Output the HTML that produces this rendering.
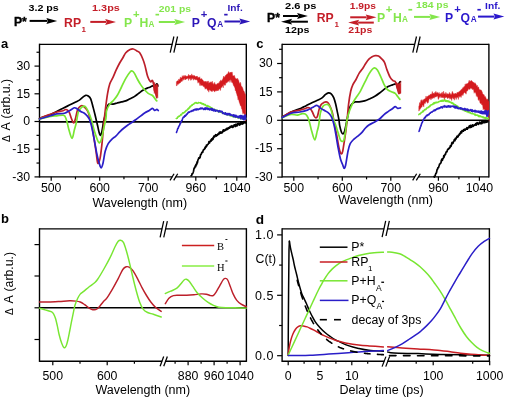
<!DOCTYPE html><html><head><meta charset="utf-8"><style>html,body{margin:0;padding:0;background:#fff;}svg{display:block;filter:blur(0.3px);}</style></head><body><svg width="505" height="398" viewBox="0 0 505 398" style="font-family:&quot;Liberation Sans&quot;, sans-serif">
<rect width="505" height="398" fill="#fff"/>
<line x1="39.50" y1="121.80" x2="246.30" y2="121.80" stroke="#000" stroke-width="1.8" />
<line x1="39.50" y1="43.70" x2="39.50" y2="177.55" stroke="#000" stroke-width="1.4" />
<line x1="246.30" y1="43.70" x2="246.30" y2="177.55" stroke="#000" stroke-width="1.4" />
<line x1="39.50" y1="44.40" x2="172.35" y2="44.40" stroke="#000" stroke-width="1.4" />
<line x1="175.40" y1="44.40" x2="246.30" y2="44.40" stroke="#000" stroke-width="1.4" />
<line x1="39.50" y1="176.85" x2="172.35" y2="176.85" stroke="#000" stroke-width="1.4" />
<line x1="175.40" y1="176.85" x2="246.30" y2="176.85" stroke="#000" stroke-width="1.4" />
<line x1="173.90" y1="36.50" x2="170.20" y2="52.70" stroke="#000" stroke-width="1.25" />
<line x1="177.55" y1="36.50" x2="173.85" y2="52.70" stroke="#000" stroke-width="1.25" />
<line x1="174.05" y1="173.75" x2="170.05" y2="180.35" stroke="#000" stroke-width="1.25" />
<line x1="177.70" y1="173.75" x2="173.70" y2="180.35" stroke="#000" stroke-width="1.25" />
<line x1="34.50" y1="176.90" x2="39.50" y2="176.90" stroke="#000" stroke-width="1.2" />
<line x1="34.50" y1="149.20" x2="39.50" y2="149.20" stroke="#000" stroke-width="1.2" />
<line x1="34.50" y1="121.50" x2="39.50" y2="121.50" stroke="#000" stroke-width="1.2" />
<line x1="34.50" y1="93.80" x2="39.50" y2="93.80" stroke="#000" stroke-width="1.2" />
<line x1="34.50" y1="66.10" x2="39.50" y2="66.10" stroke="#000" stroke-width="1.2" />
<line x1="36.50" y1="163.05" x2="39.50" y2="163.05" stroke="#000" stroke-width="1.2" />
<line x1="36.50" y1="135.35" x2="39.50" y2="135.35" stroke="#000" stroke-width="1.2" />
<line x1="36.50" y1="107.65" x2="39.50" y2="107.65" stroke="#000" stroke-width="1.2" />
<line x1="36.50" y1="79.95" x2="39.50" y2="79.95" stroke="#000" stroke-width="1.2" />
<line x1="36.50" y1="52.25" x2="39.50" y2="52.25" stroke="#000" stroke-width="1.2" />
<text x="30.10" y="180.60" font-size="12.3" text-anchor="end" font-weight="normal" fill="#000" >-30</text>
<text x="30.10" y="152.90" font-size="12.3" text-anchor="end" font-weight="normal" fill="#000" >-15</text>
<text x="30.10" y="125.20" font-size="12.3" text-anchor="end" font-weight="normal" fill="#000" >0</text>
<text x="30.10" y="97.50" font-size="12.3" text-anchor="end" font-weight="normal" fill="#000" >15</text>
<text x="30.10" y="69.80" font-size="12.3" text-anchor="end" font-weight="normal" fill="#000" >30</text>
<line x1="51.20" y1="176.85" x2="51.20" y2="180.85" stroke="#000" stroke-width="1.2" />
<line x1="99.70" y1="176.85" x2="99.70" y2="180.85" stroke="#000" stroke-width="1.2" />
<line x1="148.20" y1="176.85" x2="148.20" y2="180.85" stroke="#000" stroke-width="1.2" />
<line x1="75.45" y1="176.85" x2="75.45" y2="179.35" stroke="#000" stroke-width="1.2" />
<line x1="123.95" y1="176.85" x2="123.95" y2="179.35" stroke="#000" stroke-width="1.2" />
<line x1="195.80" y1="176.85" x2="195.80" y2="180.85" stroke="#000" stroke-width="1.2" />
<line x1="236.80" y1="176.85" x2="236.80" y2="180.85" stroke="#000" stroke-width="1.2" />
<line x1="216.30" y1="176.85" x2="216.30" y2="179.35" stroke="#000" stroke-width="1.2" />
<text x="51.20" y="192.00" font-size="12.3" text-anchor="middle" font-weight="normal" fill="#000" >500</text>
<text x="99.70" y="192.00" font-size="12.3" text-anchor="middle" font-weight="normal" fill="#000" >600</text>
<text x="148.20" y="192.00" font-size="12.3" text-anchor="middle" font-weight="normal" fill="#000" >700</text>
<text x="195.80" y="192.00" font-size="12.3" text-anchor="middle" font-weight="normal" fill="#000" >960</text>
<text x="236.80" y="192.00" font-size="12.3" text-anchor="middle" font-weight="normal" fill="#000" >1040</text>
<text x="139.80" y="206.70" font-size="12.5" text-anchor="middle" font-weight="normal" fill="#000" >Wavelength (nm)</text>
<text transform="translate(10.4,141.9) rotate(-90)" font-size="12.3" text-anchor="start" word-spacing="1.1"><tspan font-size="10.2">&#916;</tspan> A (arb.u.)</text>
<text x="1.00" y="48.00" font-size="13" text-anchor="start" font-weight="bold" fill="#000" >a</text>
<line x1="282.10" y1="120.30" x2="488.90" y2="120.30" stroke="#000" stroke-width="1.5" />
<line x1="282.10" y1="43.70" x2="282.10" y2="177.55" stroke="#000" stroke-width="1.4" />
<line x1="488.90" y1="43.70" x2="488.90" y2="177.55" stroke="#000" stroke-width="1.4" />
<line x1="282.10" y1="44.40" x2="414.95" y2="44.40" stroke="#000" stroke-width="1.4" />
<line x1="418.00" y1="44.40" x2="488.90" y2="44.40" stroke="#000" stroke-width="1.4" />
<line x1="282.10" y1="176.85" x2="414.95" y2="176.85" stroke="#000" stroke-width="1.4" />
<line x1="418.00" y1="176.85" x2="488.90" y2="176.85" stroke="#000" stroke-width="1.4" />
<line x1="416.50" y1="36.50" x2="412.80" y2="52.70" stroke="#000" stroke-width="1.25" />
<line x1="420.15" y1="36.50" x2="416.45" y2="52.70" stroke="#000" stroke-width="1.25" />
<line x1="416.65" y1="173.75" x2="412.65" y2="180.35" stroke="#000" stroke-width="1.25" />
<line x1="420.30" y1="173.75" x2="416.30" y2="180.35" stroke="#000" stroke-width="1.25" />
<line x1="277.10" y1="177.10" x2="282.10" y2="177.10" stroke="#000" stroke-width="1.2" />
<line x1="277.10" y1="148.70" x2="282.10" y2="148.70" stroke="#000" stroke-width="1.2" />
<line x1="277.10" y1="120.30" x2="282.10" y2="120.30" stroke="#000" stroke-width="1.2" />
<line x1="277.10" y1="91.90" x2="282.10" y2="91.90" stroke="#000" stroke-width="1.2" />
<line x1="277.10" y1="63.50" x2="282.10" y2="63.50" stroke="#000" stroke-width="1.2" />
<line x1="279.10" y1="162.90" x2="282.10" y2="162.90" stroke="#000" stroke-width="1.2" />
<line x1="279.10" y1="134.50" x2="282.10" y2="134.50" stroke="#000" stroke-width="1.2" />
<line x1="279.10" y1="106.10" x2="282.10" y2="106.10" stroke="#000" stroke-width="1.2" />
<line x1="279.10" y1="77.70" x2="282.10" y2="77.70" stroke="#000" stroke-width="1.2" />
<line x1="279.10" y1="49.30" x2="282.10" y2="49.30" stroke="#000" stroke-width="1.2" />
<text x="272.70" y="180.80" font-size="12.3" text-anchor="end" font-weight="normal" fill="#000" >-30</text>
<text x="272.70" y="152.40" font-size="12.3" text-anchor="end" font-weight="normal" fill="#000" >-15</text>
<text x="272.70" y="124.00" font-size="12.3" text-anchor="end" font-weight="normal" fill="#000" >0</text>
<text x="272.70" y="95.60" font-size="12.3" text-anchor="end" font-weight="normal" fill="#000" >15</text>
<text x="272.70" y="67.20" font-size="12.3" text-anchor="end" font-weight="normal" fill="#000" >30</text>
<line x1="293.80" y1="176.85" x2="293.80" y2="180.85" stroke="#000" stroke-width="1.2" />
<line x1="342.30" y1="176.85" x2="342.30" y2="180.85" stroke="#000" stroke-width="1.2" />
<line x1="390.80" y1="176.85" x2="390.80" y2="180.85" stroke="#000" stroke-width="1.2" />
<line x1="318.05" y1="176.85" x2="318.05" y2="179.35" stroke="#000" stroke-width="1.2" />
<line x1="366.55" y1="176.85" x2="366.55" y2="179.35" stroke="#000" stroke-width="1.2" />
<line x1="438.40" y1="176.85" x2="438.40" y2="180.85" stroke="#000" stroke-width="1.2" />
<line x1="479.40" y1="176.85" x2="479.40" y2="180.85" stroke="#000" stroke-width="1.2" />
<line x1="458.90" y1="176.85" x2="458.90" y2="179.35" stroke="#000" stroke-width="1.2" />
<text x="293.80" y="192.00" font-size="12.3" text-anchor="middle" font-weight="normal" fill="#000" >500</text>
<text x="342.30" y="192.00" font-size="12.3" text-anchor="middle" font-weight="normal" fill="#000" >600</text>
<text x="390.80" y="192.00" font-size="12.3" text-anchor="middle" font-weight="normal" fill="#000" >700</text>
<text x="438.40" y="192.00" font-size="12.3" text-anchor="middle" font-weight="normal" fill="#000" >960</text>
<text x="479.40" y="192.00" font-size="12.3" text-anchor="middle" font-weight="normal" fill="#000" >1040</text>
<text x="385.65" y="204.10" font-size="12.5" text-anchor="middle" font-weight="normal" fill="#000" >Wavelength (nm)</text>
<text x="256.30" y="48.00" font-size="13" text-anchor="start" font-weight="bold" fill="#000" >c</text>
<line x1="39.50" y1="307.80" x2="246.40" y2="307.80" stroke="#000" stroke-width="1.5" />
<line x1="39.50" y1="228.20" x2="39.50" y2="361.90" stroke="#000" stroke-width="1.4" />
<line x1="246.40" y1="228.20" x2="246.40" y2="361.90" stroke="#000" stroke-width="1.4" />
<line x1="39.50" y1="228.90" x2="162.20" y2="228.90" stroke="#000" stroke-width="1.4" />
<line x1="165.25" y1="228.90" x2="246.40" y2="228.90" stroke="#000" stroke-width="1.4" />
<line x1="39.50" y1="361.20" x2="162.20" y2="361.20" stroke="#000" stroke-width="1.4" />
<line x1="165.25" y1="361.20" x2="246.40" y2="361.20" stroke="#000" stroke-width="1.4" />
<line x1="163.70" y1="221.10" x2="160.10" y2="237.40" stroke="#000" stroke-width="1.25" />
<line x1="167.35" y1="221.10" x2="163.75" y2="237.40" stroke="#000" stroke-width="1.25" />
<line x1="163.70" y1="356.50" x2="160.10" y2="366.30" stroke="#000" stroke-width="1.25" />
<line x1="167.35" y1="356.50" x2="163.75" y2="366.30" stroke="#000" stroke-width="1.25" />
<line x1="34.50" y1="244.60" x2="39.50" y2="244.60" stroke="#000" stroke-width="1.2" />
<line x1="34.50" y1="276.00" x2="39.50" y2="276.00" stroke="#000" stroke-width="1.2" />
<line x1="34.50" y1="307.80" x2="39.50" y2="307.80" stroke="#000" stroke-width="1.2" />
<line x1="34.50" y1="339.50" x2="39.50" y2="339.50" stroke="#000" stroke-width="1.2" />
<line x1="52.80" y1="361.20" x2="52.80" y2="365.20" stroke="#000" stroke-width="1.2" />
<line x1="107.20" y1="361.20" x2="107.20" y2="365.20" stroke="#000" stroke-width="1.2" />
<line x1="80.00" y1="361.20" x2="80.00" y2="363.70" stroke="#000" stroke-width="1.2" />
<line x1="134.40" y1="361.20" x2="134.40" y2="363.70" stroke="#000" stroke-width="1.2" />
<line x1="188.10" y1="361.20" x2="188.10" y2="365.20" stroke="#000" stroke-width="1.2" />
<line x1="214.10" y1="361.20" x2="214.10" y2="365.20" stroke="#000" stroke-width="1.2" />
<line x1="240.10" y1="361.20" x2="240.10" y2="365.20" stroke="#000" stroke-width="1.2" />
<line x1="175.10" y1="361.20" x2="175.10" y2="363.70" stroke="#000" stroke-width="1.2" />
<line x1="201.10" y1="361.20" x2="201.10" y2="363.70" stroke="#000" stroke-width="1.2" />
<line x1="227.10" y1="361.20" x2="227.10" y2="363.70" stroke="#000" stroke-width="1.2" />
<text x="52.80" y="379.60" font-size="12.3" text-anchor="middle" font-weight="normal" fill="#000" >500</text>
<text x="107.20" y="379.60" font-size="12.3" text-anchor="middle" font-weight="normal" fill="#000" >600</text>
<text x="188.10" y="379.60" font-size="12.3" text-anchor="middle" font-weight="normal" fill="#000" >880</text>
<text x="214.10" y="379.60" font-size="12.3" text-anchor="middle" font-weight="normal" fill="#000" >960</text>
<text x="240.10" y="379.60" font-size="12.3" text-anchor="middle" font-weight="normal" fill="#000" >1040</text>
<text x="142.75" y="394.20" font-size="12.5" text-anchor="middle" font-weight="normal" fill="#000" >Wavelength (nm)</text>
<text transform="translate(13.2,314.9) rotate(-90)" font-size="12.3" text-anchor="start" word-spacing="1.1"><tspan font-size="10.2">&#916;</tspan> A (arb.u.)</text>
<text x="1.00" y="223.30" font-size="13" text-anchor="start" font-weight="bold" fill="#000" >b</text>
<line x1="181.90" y1="245.40" x2="214.20" y2="245.40" stroke="#cc2020" stroke-width="1.5" />
<line x1="181.90" y1="265.90" x2="214.20" y2="265.90" stroke="#88ee44" stroke-width="1.5" />
<text x="217" y="249.8" style="font-family:&quot;Liberation Serif&quot;, serif" font-size="10.5">B</text>
<rect x="225.4" y="239.0" width="2.0" height="0.9" fill="#000"/>
<text x="217" y="270.5" style="font-family:&quot;Liberation Serif&quot;, serif" font-size="10.5">H</text>
<rect x="225.3" y="260.5" width="2.2" height="1.0" fill="#000"/>
<line x1="282.10" y1="228.20" x2="282.10" y2="361.90" stroke="#000" stroke-width="1.4" />
<line x1="489.40" y1="228.20" x2="489.40" y2="361.90" stroke="#000" stroke-width="1.4" />
<line x1="282.10" y1="228.90" x2="384.20" y2="228.90" stroke="#000" stroke-width="1.4" />
<line x1="387.25" y1="228.90" x2="489.40" y2="228.90" stroke="#000" stroke-width="1.4" />
<line x1="282.10" y1="361.20" x2="384.35" y2="361.20" stroke="#000" stroke-width="1.4" />
<line x1="387.40" y1="361.20" x2="489.40" y2="361.20" stroke="#000" stroke-width="1.4" />
<line x1="385.70" y1="220.90" x2="382.10" y2="237.20" stroke="#000" stroke-width="1.25" />
<line x1="389.35" y1="220.90" x2="385.75" y2="237.20" stroke="#000" stroke-width="1.25" />
<line x1="386.00" y1="356.40" x2="382.10" y2="366.60" stroke="#000" stroke-width="1.25" />
<line x1="389.65" y1="356.40" x2="385.75" y2="366.60" stroke="#000" stroke-width="1.25" />
<line x1="277.10" y1="355.70" x2="282.10" y2="355.70" stroke="#000" stroke-width="1.2" />
<line x1="277.10" y1="295.30" x2="282.10" y2="295.30" stroke="#000" stroke-width="1.2" />
<line x1="277.10" y1="234.90" x2="282.10" y2="234.90" stroke="#000" stroke-width="1.2" />
<line x1="279.10" y1="325.50" x2="282.10" y2="325.50" stroke="#000" stroke-width="1.2" />
<line x1="279.10" y1="265.10" x2="282.10" y2="265.10" stroke="#000" stroke-width="1.2" />
<text x="254.90" y="359.90" font-size="12.5" text-anchor="start" font-weight="normal" fill="#000" letter-spacing="0.65">0.0</text>
<text x="254.90" y="299.50" font-size="12.5" text-anchor="start" font-weight="normal" fill="#000" letter-spacing="0.65">0.5</text>
<text x="254.90" y="239.10" font-size="12.5" text-anchor="start" font-weight="normal" fill="#000" letter-spacing="0.65">1.0</text>
<line x1="288.20" y1="361.20" x2="288.20" y2="365.20" stroke="#000" stroke-width="1.2" />
<line x1="320.00" y1="361.20" x2="320.00" y2="365.20" stroke="#000" stroke-width="1.2" />
<line x1="351.80" y1="361.20" x2="351.80" y2="365.20" stroke="#000" stroke-width="1.2" />
<line x1="304.10" y1="361.20" x2="304.10" y2="363.70" stroke="#000" stroke-width="1.2" />
<line x1="335.90" y1="361.20" x2="335.90" y2="363.70" stroke="#000" stroke-width="1.2" />
<line x1="367.70" y1="361.20" x2="367.70" y2="363.70" stroke="#000" stroke-width="1.2" />
<line x1="433.20" y1="361.20" x2="433.20" y2="365.20" stroke="#000" stroke-width="1.2" />
<line x1="489.70" y1="361.20" x2="489.70" y2="365.20" stroke="#000" stroke-width="1.2" />
<line x1="416.19" y1="361.20" x2="416.19" y2="363.70" stroke="#000" stroke-width="1.2" />
<line x1="472.69" y1="361.20" x2="472.69" y2="363.70" stroke="#000" stroke-width="1.2" />
<text x="288.20" y="379.60" font-size="12.3" text-anchor="middle" font-weight="normal" fill="#000" >0</text>
<text x="320.00" y="379.60" font-size="12.3" text-anchor="middle" font-weight="normal" fill="#000" >5</text>
<text x="351.80" y="379.60" font-size="12.3" text-anchor="middle" font-weight="normal" fill="#000" >10</text>
<text x="433.20" y="379.60" font-size="12.3" text-anchor="middle" font-weight="normal" fill="#000" >100</text>
<text x="489.70" y="379.60" font-size="12.3" text-anchor="middle" font-weight="normal" fill="#000" >1000</text>
<text x="381.60" y="394.10" font-size="12.5" text-anchor="middle" font-weight="normal" fill="#000" >Delay time (ps)</text>
<text x="255.60" y="262.70" font-size="12.3" text-anchor="start" font-weight="normal" fill="#000" >C(t)</text>
<text x="255.70" y="223.60" font-size="13.6" text-anchor="start" font-weight="bold" fill="#000" >d</text>
<path d="M39.50,118.50 C40.25,118.22 42.15,117.47 44.00,116.80 C45.85,116.13 48.25,115.52 50.60,114.50 C52.95,113.48 56.02,111.75 58.10,110.70 C60.18,109.65 61.22,109.13 63.10,108.20 C64.98,107.27 67.30,106.15 69.40,105.10 C71.50,104.05 74.03,102.73 75.70,101.90 C77.37,101.07 78.15,100.93 79.40,100.10 C80.65,99.27 82.15,97.70 83.20,96.90 C84.25,96.10 84.87,95.45 85.70,95.30 C86.53,95.15 87.37,95.42 88.20,96.00 C89.03,96.58 89.87,96.87 90.70,98.80 C91.53,100.73 92.45,104.82 93.20,107.60 C93.95,110.38 94.65,113.27 95.20,115.50 C95.75,117.73 96.08,119.25 96.50,121.00 C96.92,122.75 97.30,124.23 97.70,126.00 C98.10,127.77 98.45,130.03 98.90,131.60 C99.35,133.17 99.90,135.40 100.40,135.40 C100.90,135.40 101.35,134.00 101.90,131.60 C102.45,129.20 103.15,123.77 103.70,121.00 C104.25,118.23 104.68,117.08 105.20,115.00 C105.72,112.92 106.22,110.32 106.80,108.50 C107.38,106.68 107.67,104.83 108.70,104.10 C109.73,103.37 111.58,104.28 113.00,104.10 C114.42,103.92 115.78,103.37 117.20,103.00 C118.62,102.63 120.07,102.25 121.50,101.90 C122.93,101.55 124.37,101.43 125.80,100.90 C127.23,100.37 128.68,99.42 130.10,98.70 C131.52,97.98 132.88,97.48 134.30,96.60 C135.72,95.72 137.17,94.47 138.60,93.40 C140.03,92.33 141.47,91.08 142.90,90.20 C144.33,89.32 145.95,88.63 147.20,88.10 C148.45,87.57 149.52,87.37 150.40,87.00 C151.28,86.63 151.78,85.90 152.50,85.90 C153.22,85.90 153.98,87.35 154.70,87.00 C155.42,86.65 156.27,83.97 156.80,83.80 C157.33,83.63 157.72,85.63 157.90,86.00" fill="none" stroke="#000" stroke-width="1.7" stroke-linejoin="round" stroke-linecap="round" />
<path d="M39.50,118.50 C40.92,117.93 45.12,116.18 48.00,115.10 C50.88,114.02 54.28,112.73 56.80,112.00 C59.32,111.27 61.63,111.12 63.10,110.70 C64.57,110.28 64.87,109.60 65.60,109.50 C66.33,109.40 66.87,109.58 67.50,110.10 C68.13,110.62 68.77,111.23 69.40,112.60 C70.03,113.97 70.67,116.65 71.30,118.30 C71.93,119.95 72.68,121.88 73.20,122.50 C73.72,123.12 73.98,122.82 74.40,122.00 C74.82,121.18 75.18,119.58 75.70,117.60 C76.22,115.62 76.88,111.87 77.50,110.10 C78.12,108.33 78.67,107.73 79.40,107.00 C80.13,106.27 81.07,105.70 81.90,105.70 C82.73,105.70 83.55,106.27 84.40,107.00 C85.25,107.73 86.27,108.95 87.00,110.10 C87.73,111.25 88.18,112.02 88.80,113.90 C89.42,115.78 90.22,119.72 90.70,121.40 C91.18,123.08 91.17,121.30 91.70,124.00 C92.23,126.70 93.15,132.82 93.90,137.60 C94.65,142.38 95.62,148.68 96.20,152.70 C96.78,156.72 97.03,159.95 97.40,161.70 C97.77,163.45 97.97,163.70 98.40,163.20 C98.83,162.70 99.48,161.20 100.00,158.70 C100.52,156.20 101.00,152.47 101.50,148.20 C102.00,143.93 102.55,137.80 103.00,133.10 C103.45,128.40 103.78,124.12 104.20,120.00 C104.62,115.88 104.93,112.83 105.50,108.40 C106.07,103.97 106.88,97.50 107.60,93.40 C108.32,89.30 108.90,86.47 109.80,83.80 C110.70,81.13 111.93,79.72 113.00,77.40 C114.07,75.08 115.13,72.22 116.20,69.90 C117.27,67.58 118.33,65.45 119.40,63.50 C120.47,61.55 121.53,59.98 122.60,58.20 C123.67,56.42 124.55,54.23 125.80,52.80 C127.05,51.37 128.85,50.23 130.10,49.60 C131.35,48.97 132.23,48.82 133.30,49.00 C134.37,49.18 135.43,50.07 136.50,50.70 C137.57,51.33 138.63,51.38 139.70,52.80 C140.77,54.22 142.02,57.07 142.90,59.20 C143.78,61.33 144.22,62.75 145.00,65.60 C145.78,68.45 146.70,73.62 147.60,76.30 C148.50,78.98 149.58,80.98 150.40,81.70 C151.22,82.42 151.90,79.88 152.50,80.60 C153.10,81.32 153.53,84.22 154.00,86.00 C154.47,87.78 154.83,89.35 155.30,91.30 C155.77,93.25 156.55,96.63 156.80,97.70" fill="none" stroke="#bc1f2a" stroke-width="1.7" stroke-linejoin="round" stroke-linecap="round" />
<path d="M39.50,119.00 C41.35,118.57 47.72,116.93 50.60,116.40 C53.48,115.87 54.72,116.02 56.80,115.80 C58.88,115.58 61.73,115.00 63.10,115.10 C64.47,115.20 64.38,115.42 65.00,116.40 C65.62,117.38 66.13,118.72 66.80,121.00 C67.47,123.28 68.12,127.20 69.00,130.10 C69.88,133.00 71.22,138.40 72.10,138.40 C72.98,138.40 73.60,132.72 74.30,130.10 C75.00,127.48 75.65,125.62 76.30,122.70 C76.95,119.78 77.47,115.02 78.20,112.60 C78.93,110.18 79.87,109.25 80.70,108.20 C81.53,107.15 82.37,106.50 83.20,106.30 C84.03,106.10 84.87,106.15 85.70,107.00 C86.53,107.85 87.23,109.23 88.20,111.40 C89.17,113.57 90.57,117.07 91.50,120.00 C92.43,122.93 93.13,126.58 93.80,129.00 C94.47,131.42 94.85,132.57 95.50,134.50 C96.15,136.43 97.03,139.20 97.70,140.60 C98.37,142.00 98.87,143.15 99.50,142.90 C100.13,142.65 100.80,141.48 101.50,139.10 C102.20,136.72 102.95,132.12 103.70,128.60 C104.45,125.08 105.52,121.02 106.00,118.00 C106.48,114.98 105.97,112.82 106.60,110.50 C107.23,108.18 108.73,105.70 109.80,104.10 C110.87,102.50 111.77,102.33 113.00,100.90 C114.23,99.47 115.78,97.82 117.20,95.50 C118.62,93.18 120.07,89.85 121.50,87.00 C122.93,84.15 124.37,80.90 125.80,78.40 C127.23,75.90 129.03,73.23 130.10,72.00 C131.17,70.77 131.50,70.82 132.20,71.00 C132.90,71.18 133.40,71.68 134.30,73.10 C135.20,74.52 136.52,77.53 137.60,79.50 C138.68,81.47 139.73,83.30 140.80,84.90 C141.87,86.50 142.77,87.68 144.00,89.10 C145.23,90.52 146.78,92.33 148.20,93.40 C149.62,94.47 151.25,94.43 152.50,95.50 C153.75,96.57 154.98,98.90 155.70,99.80 C156.42,100.70 156.62,100.72 156.80,100.90" fill="none" stroke="#78e632" stroke-width="1.7" stroke-linejoin="round" stroke-linecap="round" />
<path d="M39.50,119.00 C41.35,118.47 47.72,116.65 50.60,115.80 C53.48,114.95 54.50,114.33 56.80,113.90 C59.10,113.47 62.30,113.73 64.40,113.20 C66.50,112.67 67.73,111.60 69.40,110.70 C71.07,109.80 73.15,108.12 74.40,107.80 C75.65,107.48 75.85,108.20 76.90,108.80 C77.95,109.40 79.45,110.67 80.70,111.40 C81.95,112.13 83.25,112.37 84.40,113.20 C85.55,114.03 86.75,115.35 87.60,116.40 C88.45,117.45 88.88,118.03 89.50,119.50 C90.12,120.97 90.82,123.43 91.30,125.20 C91.78,126.97 91.83,127.28 92.40,130.10 C92.97,132.92 93.95,138.08 94.70,142.10 C95.45,146.12 96.15,150.68 96.90,154.20 C97.65,157.72 98.52,160.93 99.20,163.20 C99.88,165.47 100.37,167.80 101.00,167.80 C101.63,167.80 102.30,165.97 103.00,163.20 C103.70,160.43 104.33,154.47 105.20,151.20 C106.07,147.93 107.07,145.62 108.20,143.60 C109.33,141.58 110.73,140.35 112.00,139.10 C113.27,137.85 114.47,137.35 115.80,136.10 C117.13,134.85 118.63,132.95 120.00,131.60 C121.37,130.25 122.68,129.10 124.00,128.00 C125.32,126.90 126.53,125.97 127.90,125.00 C129.27,124.03 130.77,123.18 132.20,122.20 C133.63,121.22 135.07,120.15 136.50,119.10 C137.93,118.05 139.38,116.97 140.80,115.90 C142.22,114.83 143.58,113.60 145.00,112.70 C146.42,111.80 148.05,111.22 149.30,110.50 C150.55,109.78 151.60,108.40 152.50,108.40 C153.40,108.40 153.98,110.33 154.70,110.50 C155.42,110.67 156.20,109.40 156.80,109.40 C157.40,109.40 158.05,110.32 158.30,110.50" fill="none" stroke="#2a1ec8" stroke-width="1.7" stroke-linejoin="round" stroke-linecap="round" />
<path d="M282.00,117.20 C283.50,116.33 287.82,113.50 291.00,112.00 C294.18,110.50 298.58,109.25 301.10,108.20 C303.62,107.15 304.22,106.63 306.10,105.70 C307.98,104.77 310.30,103.58 312.40,102.60 C314.50,101.62 317.03,100.63 318.70,99.80 C320.37,98.97 321.25,98.50 322.40,97.60 C323.55,96.70 324.60,95.20 325.60,94.40 C326.60,93.60 327.47,92.90 328.40,92.80 C329.33,92.70 330.32,93.00 331.20,93.80 C332.08,94.60 332.97,95.93 333.70,97.60 C334.43,99.27 334.97,101.30 335.60,103.80 C336.23,106.30 336.93,109.88 337.50,112.60 C338.07,115.32 338.63,117.93 339.00,120.10 C339.37,122.27 339.28,123.57 339.70,125.60 C340.12,127.63 340.95,130.93 341.50,132.30 C342.05,133.67 342.50,133.92 343.00,133.80 C343.50,133.68 343.92,133.48 344.50,131.60 C345.08,129.72 345.92,125.27 346.50,122.50 C347.08,119.73 347.50,117.42 348.00,115.00 C348.50,112.58 348.87,109.82 349.50,108.00 C350.13,106.18 350.88,105.12 351.80,104.10 C352.72,103.08 353.77,102.27 355.00,101.90 C356.23,101.53 357.60,102.07 359.20,101.90 C360.80,101.73 362.82,101.43 364.60,100.90 C366.38,100.37 368.12,99.52 369.90,98.70 C371.68,97.88 373.68,96.95 375.30,96.00 C376.92,95.05 378.18,94.07 379.60,93.00 C381.02,91.93 382.38,90.67 383.80,89.60 C385.22,88.53 386.67,87.38 388.10,86.60 C389.53,85.82 391.15,85.37 392.40,84.90 C393.65,84.43 394.72,83.80 395.60,83.80 C396.48,83.80 396.92,85.27 397.70,84.90 C398.48,84.53 399.87,82.15 400.30,81.60" fill="none" stroke="#000" stroke-width="1.7" stroke-linejoin="round" stroke-linecap="round" />
<path d="M282.00,117.20 C283.50,116.33 288.03,113.18 291.00,112.00 C293.97,110.82 297.50,110.63 299.80,110.10 C302.10,109.57 303.53,109.22 304.80,108.80 C306.07,108.38 306.55,107.70 307.40,107.60 C308.25,107.50 309.07,107.47 309.90,108.20 C310.73,108.93 311.67,110.63 312.40,112.00 C313.13,113.37 313.73,115.43 314.30,116.40 C314.87,117.37 315.28,117.80 315.80,117.80 C316.32,117.80 316.82,117.90 317.40,116.40 C317.98,114.90 318.67,110.78 319.30,108.80 C319.93,106.82 320.47,105.53 321.20,104.50 C321.93,103.47 322.87,103.03 323.70,102.60 C324.53,102.17 325.42,101.80 326.20,101.90 C326.98,102.00 327.67,102.25 328.40,103.20 C329.13,104.15 329.92,105.93 330.60,107.60 C331.28,109.27 331.88,110.63 332.50,113.20 C333.12,115.77 333.63,119.53 334.30,123.00 C334.97,126.47 335.73,129.93 336.50,134.00 C337.27,138.07 338.25,144.28 338.90,147.40 C339.55,150.52 339.97,151.62 340.40,152.70 C340.83,153.78 341.12,154.15 341.50,153.90 C341.88,153.65 342.25,153.17 342.70,151.20 C343.15,149.23 343.65,145.62 344.20,142.10 C344.75,138.58 345.48,134.12 346.00,130.10 C346.52,126.08 346.87,122.33 347.30,118.00 C347.73,113.67 348.03,108.55 348.60,104.10 C349.17,99.65 350.00,94.50 350.70,91.30 C351.40,88.10 351.92,86.87 352.80,84.90 C353.68,82.93 354.93,81.47 356.00,79.50 C357.07,77.53 358.12,74.88 359.20,73.10 C360.28,71.32 361.42,70.40 362.50,68.80 C363.58,67.20 364.63,65.10 365.70,63.50 C366.77,61.90 367.83,60.33 368.90,59.20 C369.97,58.07 371.03,57.30 372.10,56.70 C373.17,56.10 374.23,55.72 375.30,55.60 C376.37,55.48 377.43,55.47 378.50,56.00 C379.57,56.53 380.70,57.73 381.70,58.80 C382.70,59.87 383.62,60.55 384.50,62.40 C385.38,64.25 386.05,67.40 387.00,69.90 C387.95,72.40 389.20,75.62 390.20,77.40 C391.20,79.18 392.17,79.90 393.00,80.60 C393.83,81.30 394.58,80.72 395.20,81.60 C395.82,82.48 396.10,83.93 396.70,85.90 C397.30,87.87 398.27,92.50 398.80,93.40 C399.33,94.30 399.72,91.65 399.90,91.30" fill="none" stroke="#bc1f2a" stroke-width="1.7" stroke-linejoin="round" stroke-linecap="round" />
<path d="M282.00,117.60 C283.50,117.08 288.45,114.92 291.00,114.50 C293.55,114.08 295.42,115.25 297.30,115.10 C299.18,114.95 300.93,113.77 302.30,113.60 C303.67,113.43 304.55,113.43 305.50,114.10 C306.45,114.77 307.27,115.97 308.00,117.60 C308.73,119.23 309.27,121.57 309.90,123.90 C310.53,126.23 310.98,128.93 311.80,131.60 C312.62,134.27 313.92,139.90 314.80,139.90 C315.68,139.90 316.45,134.05 317.10,131.60 C317.75,129.15 318.13,128.37 318.70,125.20 C319.27,122.03 319.78,115.75 320.50,112.60 C321.22,109.45 322.05,107.65 323.00,106.30 C323.95,104.95 325.25,104.70 326.20,104.50 C327.15,104.30 327.87,104.17 328.70,105.10 C329.53,106.03 330.37,107.60 331.20,110.10 C332.03,112.60 332.90,117.45 333.70,120.10 C334.50,122.75 335.25,123.83 336.00,126.00 C336.75,128.17 337.47,130.78 338.20,133.10 C338.93,135.42 339.77,138.52 340.40,139.90 C341.03,141.28 341.42,141.40 342.00,141.40 C342.58,141.40 343.28,141.78 343.90,139.90 C344.52,138.02 345.18,133.42 345.70,130.10 C346.22,126.78 346.35,123.27 347.00,120.00 C347.65,116.73 348.63,113.33 349.60,110.50 C350.57,107.67 351.73,105.13 352.80,103.00 C353.87,100.87 354.75,99.65 356.00,97.70 C357.25,95.75 358.87,93.80 360.30,91.30 C361.73,88.80 363.17,85.55 364.60,82.70 C366.03,79.85 367.65,76.40 368.90,74.20 C370.15,72.00 371.15,70.57 372.10,69.50 C373.05,68.43 373.72,67.73 374.60,67.80 C375.48,67.87 376.40,68.48 377.40,69.90 C378.40,71.32 379.53,73.98 380.60,76.30 C381.67,78.62 382.73,81.67 383.80,83.80 C384.87,85.93 385.75,87.78 387.00,89.10 C388.25,90.42 389.93,90.98 391.30,91.70 C392.67,92.42 394.13,92.58 395.20,93.40 C396.27,94.22 396.92,95.60 397.70,96.60 C398.48,97.60 399.53,98.93 399.90,99.40" fill="none" stroke="#78e632" stroke-width="1.7" stroke-linejoin="round" stroke-linecap="round" />
<path d="M282.00,117.60 C283.50,116.87 288.03,114.13 291.00,113.20 C293.97,112.27 297.07,112.52 299.80,112.00 C302.53,111.48 305.30,110.83 307.40,110.10 C309.50,109.37 310.83,108.40 312.40,107.60 C313.97,106.80 315.55,105.30 316.80,105.30 C318.05,105.30 318.75,106.80 319.90,107.60 C321.05,108.40 322.33,109.27 323.70,110.10 C325.07,110.93 326.85,111.55 328.10,112.60 C329.35,113.65 330.37,114.93 331.20,116.40 C332.03,117.87 332.55,119.63 333.10,121.40 C333.65,123.17 334.03,124.80 334.50,127.00 C334.97,129.20 335.28,131.07 335.90,134.60 C336.52,138.13 337.45,144.18 338.20,148.20 C338.95,152.22 339.65,155.93 340.40,158.70 C341.15,161.47 342.07,163.17 342.70,164.80 C343.33,166.43 343.70,168.50 344.20,168.50 C344.70,168.50 345.07,167.68 345.70,164.80 C346.33,161.92 347.25,154.73 348.00,151.20 C348.75,147.67 349.20,145.62 350.20,143.60 C351.20,141.58 352.73,140.35 354.00,139.10 C355.27,137.85 356.47,137.23 357.80,136.10 C359.13,134.97 360.72,133.65 362.00,132.30 C363.28,130.95 364.35,129.22 365.50,128.00 C366.65,126.78 367.45,125.97 368.90,125.00 C370.35,124.03 372.42,123.20 374.20,122.20 C375.98,121.20 378.00,120.23 379.60,119.00 C381.20,117.77 382.38,116.03 383.80,114.80 C385.22,113.57 386.67,112.60 388.10,111.60 C389.53,110.60 391.22,109.63 392.40,108.80 C393.58,107.97 394.32,106.67 395.20,106.60 C396.08,106.53 396.82,108.18 397.70,108.40 C398.58,108.62 400.03,107.98 400.50,107.90" fill="none" stroke="#2a1ec8" stroke-width="1.7" stroke-linejoin="round" stroke-linecap="round" />
<polygon points="176.40,81.68 176.85,81.44 177.30,80.85 177.75,80.87 178.20,81.16 178.65,79.30 179.10,78.83 179.55,79.94 180.00,79.39 180.45,76.93 180.90,78.52 181.35,77.74 181.80,78.05 182.25,75.62 182.70,77.29 183.15,77.01 183.60,75.46 184.05,76.83 184.50,75.47 184.95,77.09 185.40,75.40 185.85,75.72 186.30,76.87 186.75,76.02 187.20,76.15 187.65,76.27 188.10,75.87 188.55,74.28 189.00,75.72 189.45,75.57 189.90,75.29 190.35,75.47 190.80,75.33 191.25,76.09 191.70,73.88 192.15,75.44 192.60,75.21 193.05,75.78 193.50,75.37 193.95,76.54 194.40,75.39 194.85,75.84 195.30,76.43 195.75,77.12 196.20,75.98 196.65,76.77 197.10,76.21 197.55,76.42 198.00,78.21 198.45,77.16 198.90,77.85 199.35,77.82 199.80,76.76 200.25,79.59 200.70,78.76 201.15,79.27 201.60,78.40 202.05,79.24 202.50,80.01 202.95,80.01 203.40,81.25 203.85,81.29 204.30,81.48 204.75,81.77 205.20,81.10 205.65,81.58 206.10,82.59 206.55,81.35 207.00,82.71 207.45,81.62 207.90,80.96 208.35,81.10 208.80,83.54 209.25,82.87 209.70,82.64 210.15,81.67 210.60,83.04 211.05,81.76 211.50,82.11 211.95,83.62 212.40,81.15 212.85,83.71 213.30,83.38 213.75,84.38 214.20,83.99 214.65,82.34 215.10,84.01 215.55,84.18 216.00,84.70 216.45,84.65 216.90,83.85 217.35,84.12 217.80,83.14 218.25,84.10 218.70,82.78 219.15,83.37 219.60,81.60 220.05,81.56 220.50,80.79 220.95,79.84 221.40,81.31 221.85,80.84 222.30,80.04 222.75,78.90 223.20,78.03 223.65,76.05 224.10,77.87 224.55,76.84 225.00,76.81 225.45,75.48 225.90,74.99 226.35,74.83 226.80,74.16 227.25,73.65 227.70,74.22 228.15,72.72 228.60,71.50 229.05,72.56 229.50,73.38 229.95,72.37 230.40,72.82 230.85,72.11 231.30,73.05 231.75,71.97 232.20,72.01 232.65,75.43 233.10,75.64 233.55,75.67 234.00,76.32 234.45,75.36 234.90,77.48 235.35,77.84 235.80,78.77 236.25,79.02 236.70,78.67 237.15,79.06 237.60,78.15 238.05,80.16 238.50,79.73 238.95,81.43 239.40,83.49 239.85,83.19 240.30,82.23 240.75,83.41 241.20,86.03 241.65,86.61 242.10,86.71 242.55,87.71 243.00,89.05 243.45,90.67 243.90,90.90 244.35,92.02 244.80,93.39 245.25,93.76 245.70,96.03 245.70,121.31 245.25,118.76 244.80,117.00 244.35,114.33 243.90,113.33 243.45,112.80 243.00,114.27 242.55,112.35 242.10,109.56 241.65,109.01 241.20,106.61 240.75,105.92 240.30,105.41 239.85,103.80 239.40,102.67 238.95,100.97 238.50,98.62 238.05,100.03 237.60,96.38 237.15,95.77 236.70,93.76 236.25,93.02 235.80,90.15 235.35,90.85 234.90,88.05 234.45,86.80 234.00,86.38 233.55,85.62 233.10,84.26 232.65,82.29 232.20,82.82 231.75,82.56 231.30,80.70 230.85,79.59 230.40,80.30 229.95,82.48 229.50,79.79 229.05,80.45 228.60,81.15 228.15,81.70 227.70,82.37 227.25,81.25 226.80,83.11 226.35,82.79 225.90,82.49 225.45,85.33 225.00,84.08 224.55,85.38 224.10,84.65 223.65,84.35 223.20,87.88 222.75,86.22 222.30,85.65 221.85,87.26 221.40,87.57 220.95,87.47 220.50,90.55 220.05,89.26 219.60,88.70 219.15,88.93 218.70,90.65 218.25,89.50 217.80,89.65 217.35,91.00 216.90,90.04 216.45,91.09 216.00,90.78 215.55,90.91 215.10,90.48 214.65,92.08 214.20,91.20 213.75,90.63 213.30,90.60 212.85,90.32 212.40,91.57 211.95,91.03 211.50,91.17 211.05,91.51 210.60,90.29 210.15,90.49 209.70,90.21 209.25,89.19 208.80,92.20 208.35,89.83 207.90,90.55 207.45,90.20 207.00,89.24 206.55,88.82 206.10,87.80 205.65,88.72 205.20,89.30 204.75,87.69 204.30,86.82 203.85,86.53 203.40,86.82 202.95,85.26 202.50,85.66 202.05,84.75 201.60,85.50 201.15,85.32 200.70,83.38 200.25,85.64 199.80,85.51 199.35,82.46 198.90,82.27 198.45,81.92 198.00,83.25 197.55,81.10 197.10,79.93 196.65,79.59 196.20,80.05 195.75,79.85 195.30,79.77 194.85,78.75 194.40,79.35 193.95,79.30 193.50,80.31 193.05,77.92 192.60,78.80 192.15,78.34 191.70,79.85 191.25,77.87 190.80,80.48 190.35,78.21 189.90,78.65 189.45,78.83 189.00,78.29 188.55,80.52 188.10,77.75 187.65,78.31 187.20,78.74 186.75,78.96 186.30,78.63 185.85,79.57 185.40,79.40 184.95,79.92 184.50,78.78 184.05,78.32 183.60,80.35 183.15,79.00 182.70,79.61 182.25,81.30 181.80,81.44 181.35,81.29 180.90,81.49 180.45,82.65 180.00,82.93 179.55,83.37 179.10,83.03 178.65,83.70 178.20,84.43 177.75,83.83 177.30,84.87 176.85,85.99 176.40,85.62" fill="#d41a1e" stroke="#d41a1e" stroke-width="0.4" stroke-linejoin="round"/>
<polygon points="153.50,84.85 153.90,84.30 154.30,82.99 154.70,82.18 155.10,84.85 155.50,85.45 155.90,85.23 156.30,83.88 156.70,83.87 157.10,85.18 157.50,86.34 157.90,84.05 157.90,97.70 157.50,96.70 157.10,96.53 156.70,95.09 156.30,96.22 155.90,94.96 155.50,93.80 155.10,92.12 154.70,92.48 154.30,93.61 153.90,90.87 153.50,90.31" fill="#c81e24" stroke="#c81e24" stroke-width="0.4" stroke-linejoin="round"/>
<polyline points="176.20,118.45 176.55,118.54 176.90,118.15 177.25,118.16 177.60,117.08 177.95,117.10 178.30,116.96 178.65,116.16 179.00,116.43 179.35,116.35 179.70,115.67 180.05,115.64 180.40,115.31 180.75,114.56 181.10,114.44 181.45,114.93 181.80,113.86 182.15,113.70 182.50,113.00 182.85,112.88 183.20,112.54 183.55,113.18 183.90,112.65 184.25,112.53 184.60,112.36 184.95,111.60 185.30,111.68 185.65,110.90 186.00,110.45 186.35,110.78 186.70,110.42 187.05,110.17 187.40,109.31 187.75,109.35 188.10,108.60 188.45,108.98 188.80,108.57 189.15,107.50 189.50,107.95 189.85,106.73 190.20,106.30 190.55,106.73 190.90,105.89 191.25,105.84 191.60,105.67 191.95,104.69 192.30,105.27 192.65,104.44 193.00,104.37 193.35,104.00 193.70,104.22 194.05,103.97 194.40,103.26 194.75,102.89 195.10,102.96 195.45,102.94 195.80,102.38 196.15,102.38 196.50,103.12 196.85,103.04 197.20,103.37 197.55,103.38 197.90,103.25 198.25,102.65 198.60,102.39 198.95,102.57 199.30,102.76 199.65,102.83 200.00,102.85 200.35,102.63 200.70,103.28 201.05,102.78 201.40,103.18 201.75,103.87 202.10,103.96 202.45,103.53 202.80,103.65 203.15,104.51 203.50,103.74 203.85,104.07 204.20,104.73 204.55,104.90 204.90,104.60 205.25,104.60 205.60,104.93 205.95,105.75 206.30,105.53 206.65,106.29 207.00,106.20 207.35,106.57 207.70,105.58 208.05,105.90 208.40,105.88 208.75,106.57 209.10,106.65 209.45,106.49 209.80,107.28 210.15,106.92 210.50,107.38 210.85,107.49 211.20,108.34 211.55,108.07 211.90,108.07 212.25,108.00 212.60,108.66 212.95,109.08 213.30,109.33 213.65,109.81 214.00,109.87 214.35,109.33 214.70,109.33 215.05,110.21 215.40,110.38 215.75,110.18 216.10,110.70 216.45,110.50 216.80,110.31 217.15,110.31 217.50,110.26 217.85,111.15 218.20,111.59 218.55,111.73 218.90,111.34 219.25,111.71 219.60,112.16 219.95,112.16 220.30,112.03 220.65,111.94 221.00,112.19 221.35,111.90 221.70,112.04 222.05,112.77 222.40,113.27 222.75,112.86 223.10,112.83 223.45,112.89 223.80,113.14 224.15,113.69 224.50,113.39 224.85,114.13 225.20,113.29 225.55,113.61 225.90,113.99 226.25,113.97 226.60,114.60 226.95,114.68 227.30,114.91 227.65,114.63 228.00,114.04 228.35,114.79 228.70,114.87 229.05,114.90 229.40,114.76 229.75,115.38 230.10,115.72 230.45,114.86 230.80,115.64 231.15,115.39 231.50,115.67 231.85,116.23 232.20,116.41 232.55,116.13 232.90,115.69 233.25,116.66 233.60,115.87 233.95,116.21 234.30,116.85 234.65,116.33 235.00,116.38 235.35,117.29 235.70,117.38 236.05,116.73 236.40,116.92 236.75,116.88 237.10,116.80 237.45,117.04 237.80,118.02 238.15,117.03 238.50,117.29 238.85,117.33 239.20,117.26 239.55,117.87 239.90,118.21 240.25,118.40 240.60,118.23 240.95,118.53 241.30,117.63 241.65,118.04 242.00,118.93 242.35,117.94 242.70,118.26 243.05,118.58 243.40,118.31 243.75,118.63 244.10,118.02 244.45,118.23 244.80,119.09 245.15,118.10 245.50,119.00 245.85,118.12" fill="none" stroke="#78e632" stroke-width="1.5" stroke-linejoin="round" stroke-linecap="round" />
<polyline points="176.50,132.39 176.85,131.28 177.20,130.46 177.55,129.16 177.90,128.28 178.25,128.19 178.60,126.82 178.95,126.04 179.30,125.88 179.65,125.18 180.00,123.66 180.35,123.88 180.70,122.77 181.05,121.92 181.40,120.96 181.75,120.55 182.10,120.46 182.45,119.06 182.80,118.22 183.15,117.54 183.50,117.03 183.85,116.90 184.20,117.11 184.55,115.93 184.90,115.69 185.25,116.09 185.60,115.80 185.95,115.43 186.30,114.35 186.65,114.10 187.00,114.35 187.35,113.54 187.70,113.40 188.05,112.66 188.40,112.02 188.75,112.08 189.10,112.33 189.45,112.21 189.80,111.85 190.15,111.59 190.50,111.51 190.85,111.27 191.20,111.21 191.55,111.35 191.90,110.57 192.25,110.81 192.60,111.00 192.95,110.76 193.30,109.94 193.65,110.58 194.00,110.30 194.35,109.48 194.70,109.45 195.05,109.33 195.40,109.13 195.75,109.99 196.10,109.37 196.45,109.78 196.80,108.96 197.15,108.81 197.50,109.61 197.85,109.47 198.20,109.62 198.55,109.25 198.90,109.04 199.25,109.22 199.60,108.49 199.95,108.88 200.30,108.67 200.65,108.02 201.00,108.88 201.35,108.27 201.70,108.58 202.05,108.26 202.40,108.14 202.75,108.22 203.10,108.70 203.45,109.46 203.80,109.37 204.15,109.22 204.50,109.17 204.85,108.07 205.20,109.45 205.55,108.04 205.90,107.75 206.25,108.50 206.60,108.96 206.95,108.18 207.30,108.79 207.65,108.06 208.00,109.43 208.35,108.47 208.70,108.61 209.05,108.80 209.40,109.57 209.75,109.89 210.10,109.06 210.45,108.97 210.80,109.41 211.15,108.40 211.50,109.20 211.85,110.13 212.20,110.08 212.55,108.73 212.90,110.41 213.25,109.56 213.60,110.84 213.95,109.70 214.30,109.48 214.65,110.24 215.00,111.00 215.35,110.19 215.70,111.15 216.05,110.93 216.40,110.33 216.75,110.30 217.10,110.80 217.45,110.68 217.80,110.72 218.15,111.37 218.50,111.90 218.85,111.41 219.20,110.63 219.55,110.87 219.90,111.26 220.25,111.85 220.60,111.03 220.95,111.04 221.30,111.64 221.65,111.70 222.00,111.32 222.35,112.47 222.70,113.36 223.05,112.71 223.40,113.25 223.75,113.56 224.10,113.71 224.45,113.98 224.80,113.17 225.15,113.78 225.50,112.78 225.85,114.43 226.20,113.56 226.55,113.84 226.90,114.76 227.25,113.64 227.60,113.53 227.95,114.88 228.30,114.52 228.65,113.58 229.00,113.56 229.35,114.29 229.70,113.69 230.05,115.43 230.40,114.22 230.75,114.49 231.10,114.80 231.45,115.14 231.80,115.06 232.15,115.54 232.50,115.69 232.85,115.33 233.20,114.74 233.55,116.60 233.90,116.11 234.25,114.98 234.60,115.78 234.95,116.49 235.30,117.06 235.65,115.29 236.00,115.27 236.35,116.30 236.70,116.27 237.05,117.30 237.40,117.25 237.75,116.35 238.10,116.61 238.45,117.03 238.80,117.86 239.15,116.17 239.50,116.72 239.85,115.81 240.20,117.62 240.55,115.55 240.90,118.91 241.25,117.44 241.60,117.71 241.95,115.65 242.30,116.30 242.65,117.44 243.00,119.29 243.35,117.59 243.70,116.10 244.05,119.86 244.40,117.98 244.75,117.09 245.10,114.94 245.45,115.38 245.80,119.24" fill="none" stroke="#2a1ec8" stroke-width="1.6" stroke-linejoin="round" stroke-linecap="round" />
<polyline points="191.10,175.52 191.45,175.65 191.80,175.03 192.15,173.57 192.50,173.73 192.85,173.24 193.20,172.29 193.55,171.17 193.90,169.06 194.25,167.91 194.60,168.01 194.95,166.94 195.30,165.87 195.65,166.70 196.00,164.34 196.35,165.01 196.70,164.50 197.05,161.75 197.40,162.87 197.75,160.84 198.10,159.61 198.45,158.90 198.80,157.89 199.15,158.35 199.50,157.43 199.85,157.90 200.20,157.21 200.55,154.70 200.90,154.87 201.25,154.20 201.60,153.04 201.95,152.57 202.30,151.97 202.65,152.43 203.00,151.02 203.35,149.90 203.70,149.59 204.05,149.55 204.40,149.28 204.75,147.95 205.10,148.47 205.45,146.74 205.80,147.26 206.15,146.54 206.50,145.05 206.85,145.99 207.20,144.70 207.55,144.61 207.90,144.31 208.25,143.95 208.60,143.06 208.95,141.70 209.30,143.01 209.65,142.75 210.00,141.43 210.35,141.22 210.70,140.07 211.05,141.18 211.40,140.27 211.75,138.75 212.10,139.78 212.45,139.78 212.80,137.84 213.15,139.00 213.50,137.36 213.85,136.23 214.20,137.12 214.55,135.98 214.90,136.69 215.25,136.10 215.60,134.73 215.95,135.50 216.30,136.04 216.65,134.91 217.00,134.83 217.35,135.37 217.70,134.14 218.05,134.02 218.40,134.00 218.75,134.34 219.10,132.62 219.45,132.12 219.80,133.49 220.15,132.76 220.50,131.98 220.85,133.22 221.20,133.02 221.55,132.02 221.90,132.92 222.25,132.38 222.60,132.00 222.95,130.72 223.30,129.88 223.65,131.30 224.00,131.26 224.35,130.17 224.70,130.30 225.05,130.34 225.40,129.40 225.75,130.30 226.10,129.80 226.45,129.20 226.80,128.36 227.15,129.25 227.50,128.52 227.85,129.31 228.20,127.81 228.55,128.17 228.90,127.52 229.25,127.85 229.60,128.08 229.95,126.78 230.30,126.48 230.65,127.33 231.00,126.48 231.35,127.04 231.70,126.05 232.05,125.72 232.40,126.61 232.75,127.40 233.10,127.14 233.45,126.16 233.80,125.74 234.15,124.81 234.50,125.18 234.85,125.14 235.20,126.51 235.55,124.40 235.90,126.26 236.25,124.99 236.60,124.76 236.95,124.21 237.30,125.76 237.65,123.76 238.00,124.55 238.35,124.28 238.70,123.42 239.05,123.37 239.40,125.09 239.75,124.51 240.10,124.26 240.45,124.55 240.80,122.51 241.15,123.85 241.50,123.86 241.85,122.49 242.20,122.93 242.55,124.06 242.90,122.40 243.25,123.33 243.60,121.79 243.95,122.88 244.30,121.81 244.65,122.27 245.00,121.83 245.35,122.91 245.70,122.49" fill="none" stroke="#000" stroke-width="1.7" stroke-linejoin="round" stroke-linecap="round" />
<polygon points="418.80,106.46 419.25,105.28 419.70,102.44 420.15,104.25 420.60,101.72 421.05,99.90 421.50,101.21 421.95,99.54 422.40,100.61 422.85,101.77 423.30,99.50 423.75,99.95 424.20,99.28 424.65,98.80 425.10,98.45 425.55,98.49 426.00,95.98 426.45,97.19 426.90,97.66 427.35,96.13 427.80,96.76 428.25,95.72 428.70,95.98 429.15,94.84 429.60,96.08 430.05,94.78 430.50,94.27 430.95,93.92 431.40,94.61 431.85,93.61 432.30,91.49 432.75,94.35 433.20,92.88 433.65,93.58 434.10,93.99 434.55,92.68 435.00,92.24 435.45,92.88 435.90,91.22 436.35,93.57 436.80,92.54 437.25,92.30 437.70,92.97 438.15,93.31 438.60,93.67 439.05,92.29 439.50,93.92 439.95,93.96 440.40,94.21 440.85,93.19 441.30,92.86 441.75,94.48 442.20,91.90 442.65,93.89 443.10,94.42 443.55,91.17 444.00,92.93 444.45,93.80 444.90,93.97 445.35,94.17 445.80,92.31 446.25,92.95 446.70,94.43 447.15,94.33 447.60,93.50 448.05,94.14 448.50,94.10 448.95,94.31 449.40,92.37 449.85,93.77 450.30,94.96 450.75,93.55 451.20,94.26 451.65,94.67 452.10,91.54 452.55,91.64 453.00,93.20 453.45,94.61 453.90,93.25 454.35,93.80 454.80,94.33 455.25,93.07 455.70,93.59 456.15,93.92 456.60,93.71 457.05,92.23 457.50,92.55 457.95,92.83 458.40,92.34 458.85,91.68 459.30,91.69 459.75,90.88 460.20,90.71 460.65,90.40 461.10,89.42 461.55,89.52 462.00,89.38 462.45,88.13 462.90,87.61 463.35,88.09 463.80,86.64 464.25,86.26 464.70,86.96 465.15,83.98 465.60,85.70 466.05,83.63 466.50,84.16 466.95,83.52 467.40,83.76 467.85,83.35 468.30,83.12 468.75,81.61 469.20,80.16 469.65,82.27 470.10,80.79 470.55,81.67 471.00,80.50 471.45,80.62 471.90,80.92 472.35,81.43 472.80,82.12 473.25,82.50 473.70,82.22 474.15,82.78 474.60,83.82 475.05,82.67 475.50,83.68 475.95,84.08 476.40,85.48 476.85,86.02 477.30,85.25 477.75,87.42 478.20,87.05 478.65,87.12 479.10,89.13 479.55,89.69 480.00,89.55 480.45,89.83 480.90,90.34 481.35,90.13 481.80,91.32 482.25,91.97 482.70,94.00 483.15,94.15 483.60,94.71 484.05,94.62 484.50,96.35 484.95,96.68 485.40,96.49 485.85,97.70 486.30,98.88 486.75,99.52 487.20,98.75 487.65,99.33 488.10,100.22 488.55,101.27 489.00,101.25 489.00,121.10 488.55,117.27 488.10,117.20 487.65,114.78 487.20,114.47 486.75,113.44 486.30,114.20 485.85,112.29 485.40,110.08 484.95,110.56 484.50,109.39 484.05,109.06 483.60,108.38 483.15,109.90 482.70,105.67 482.25,104.79 481.80,104.88 481.35,103.85 480.90,103.04 480.45,103.60 480.00,102.96 479.55,100.53 479.10,99.09 478.65,100.49 478.20,99.75 477.75,96.37 477.30,97.10 476.85,94.19 476.40,96.38 475.95,94.09 475.50,92.20 475.05,92.43 474.60,91.68 474.15,93.33 473.70,90.50 473.25,89.36 472.80,88.85 472.35,89.80 471.90,88.35 471.45,88.73 471.00,88.28 470.55,87.85 470.10,89.20 469.65,89.49 469.20,89.00 468.75,88.47 468.30,89.51 467.85,90.19 467.40,91.01 466.95,90.74 466.50,91.85 466.05,94.22 465.60,92.97 465.15,93.08 464.70,92.19 464.25,92.72 463.80,93.04 463.35,94.26 462.90,95.72 462.45,94.30 462.00,94.91 461.55,95.43 461.10,97.51 460.65,96.42 460.20,96.10 459.75,97.36 459.30,96.03 458.85,95.97 458.40,99.50 457.95,97.30 457.50,97.53 457.05,97.17 456.60,97.44 456.15,99.62 455.70,97.49 455.25,97.79 454.80,97.61 454.35,100.28 453.90,97.51 453.45,98.92 453.00,98.81 452.55,97.61 452.10,98.00 451.65,100.63 451.20,98.83 450.75,97.55 450.30,98.88 449.85,99.25 449.40,97.42 448.95,97.97 448.50,97.13 448.05,98.59 447.60,98.54 447.15,97.76 446.70,97.52 446.25,97.08 445.80,96.87 445.35,97.95 444.90,96.90 444.45,100.58 444.00,96.64 443.55,98.08 443.10,96.49 442.65,97.78 442.20,97.19 441.75,97.72 441.30,96.45 440.85,97.68 440.40,95.88 439.95,96.33 439.50,97.38 439.05,97.31 438.60,99.27 438.15,99.29 437.70,95.73 437.25,96.31 436.80,96.74 436.35,96.11 435.90,97.20 435.45,97.00 435.00,96.43 434.55,97.29 434.10,98.37 433.65,97.15 433.20,98.03 432.75,97.64 432.30,98.83 431.85,98.32 431.40,98.55 430.95,100.12 430.50,98.25 430.05,98.87 429.60,98.69 429.15,98.90 428.70,100.84 428.25,102.71 427.80,102.93 427.35,103.19 426.90,101.10 426.45,101.81 426.00,101.47 425.55,102.58 425.10,103.75 424.65,103.10 424.20,103.48 423.75,106.91 423.30,105.46 422.85,104.63 422.40,105.37 421.95,107.28 421.50,106.89 421.05,107.52 420.60,108.34 420.15,109.36 419.70,109.05 419.25,110.57 418.80,111.12" fill="#d41a1e" stroke="#d41a1e" stroke-width="0.4" stroke-linejoin="round"/>
<polygon points="396.50,82.01 396.90,83.72 397.30,83.98 397.70,82.99 398.10,83.33 398.50,83.15 398.90,84.05 399.30,84.06 399.70,82.78 400.10,84.33 400.50,83.60 400.90,81.13 400.90,93.40 400.50,93.40 400.10,93.27 399.70,92.53 399.30,92.04 398.90,91.36 398.50,91.20 398.10,90.33 397.70,89.15 397.30,88.80 396.90,88.55 396.50,86.94" fill="#c81e24" stroke="#c81e24" stroke-width="0.4" stroke-linejoin="round"/>
<polyline points="418.80,114.61 419.15,114.10 419.50,113.88 419.85,113.75 420.20,113.99 420.55,113.17 420.90,113.21 421.25,112.35 421.60,112.57 421.95,112.16 422.30,112.07 422.65,111.97 423.00,110.75 423.35,111.55 423.70,110.86 424.05,110.17 424.40,110.16 424.75,109.45 425.10,109.35 425.45,109.82 425.80,109.40 426.15,109.33 426.50,108.22 426.85,107.89 427.20,107.96 427.55,107.83 427.90,107.83 428.25,107.07 428.60,107.33 428.95,106.89 429.30,106.27 429.65,106.61 430.00,105.49 430.35,105.86 430.70,105.13 431.05,104.70 431.40,104.97 431.75,104.77 432.10,104.64 432.45,104.10 432.80,104.52 433.15,104.09 433.50,103.08 433.85,102.79 434.20,103.81 434.55,103.03 434.90,102.55 435.25,102.52 435.60,103.02 435.95,102.28 436.30,102.39 436.65,102.64 437.00,102.13 437.35,102.37 437.70,102.60 438.05,102.28 438.40,101.95 438.75,101.81 439.10,101.30 439.45,101.56 439.80,101.44 440.15,101.23 440.50,100.98 440.85,101.16 441.20,100.44 441.55,101.03 441.90,101.33 442.25,100.18 442.60,100.42 442.95,101.29 443.30,100.18 443.65,101.05 444.00,100.75 444.35,100.12 444.70,100.77 445.05,100.02 445.40,101.12 445.75,100.56 446.10,101.39 446.45,101.45 446.80,100.63 447.15,101.04 447.50,100.83 447.85,101.64 448.20,100.94 448.55,101.01 448.90,101.19 449.25,102.21 449.60,101.61 449.95,101.83 450.30,102.10 450.65,102.36 451.00,102.32 451.35,103.10 451.70,102.50 452.05,102.80 452.40,103.50 452.75,103.00 453.10,103.15 453.45,104.18 453.80,103.79 454.15,104.72 454.50,104.87 454.85,104.57 455.20,104.76 455.55,104.72 455.90,105.88 456.25,105.59 456.60,105.70 456.95,105.73 457.30,106.02 457.65,107.02 458.00,106.36 458.35,107.09 458.70,107.40 459.05,107.51 459.40,107.71 459.75,107.81 460.10,107.78 460.45,108.70 460.80,108.96 461.15,108.73 461.50,108.52 461.85,109.48 462.20,108.80 462.55,108.93 462.90,109.64 463.25,110.06 463.60,109.91 463.95,109.53 464.30,110.74 464.65,109.92 465.00,110.31 465.35,111.23 465.70,111.14 466.05,111.25 466.40,110.58 466.75,111.66 467.10,111.26 467.45,110.94 467.80,112.02 468.15,112.34 468.50,111.43 468.85,112.06 469.20,112.75 469.55,112.21 469.90,112.32 470.25,113.03 470.60,112.76 470.95,113.56 471.30,113.52 471.65,113.66 472.00,113.61 472.35,113.13 472.70,113.85 473.05,113.85 473.40,113.87 473.75,114.10 474.10,113.92 474.45,113.93 474.80,114.92 475.15,114.40 475.50,114.22 475.85,115.39 476.20,114.97 476.55,115.30 476.90,115.03 477.25,114.93 477.60,115.29 477.95,116.02 478.30,115.48 478.65,116.38 479.00,115.79 479.35,116.63 479.70,115.90 480.05,116.35 480.40,116.07 480.75,116.20 481.10,116.76 481.45,116.67 481.80,116.99 482.15,116.70 482.50,116.92 482.85,117.04 483.20,117.84 483.55,116.96 483.90,117.47 484.25,118.08 484.60,117.82 484.95,117.52 485.30,118.49 485.65,117.50 486.00,117.61 486.35,117.54 486.70,118.13 487.05,118.71 487.40,118.09 487.75,118.18 488.10,118.87 488.45,118.08" fill="none" stroke="#78e632" stroke-width="1.5" stroke-linejoin="round" stroke-linecap="round" />
<polyline points="419.00,131.32 419.35,130.84 419.70,129.15 420.05,128.47 420.40,126.96 420.75,126.37 421.10,125.60 421.45,124.18 421.80,122.97 422.15,122.59 422.50,121.94 422.85,120.56 423.20,120.01 423.55,119.42 423.90,118.81 424.25,118.12 424.60,118.14 424.95,117.37 425.30,117.66 425.65,116.75 426.00,116.25 426.35,115.75 426.70,115.44 427.05,115.18 427.40,115.60 427.75,114.89 428.10,114.67 428.45,114.94 428.80,114.71 429.15,114.26 429.50,113.49 429.85,113.33 430.20,113.26 430.55,112.75 430.90,112.58 431.25,112.18 431.60,111.95 431.95,112.20 432.30,111.79 432.65,111.38 433.00,111.14 433.35,111.02 433.70,110.89 434.05,110.07 434.40,110.73 434.75,110.18 435.10,109.90 435.45,110.35 435.80,109.99 436.15,109.42 436.50,108.93 436.85,109.18 437.20,109.03 437.55,108.80 437.90,108.37 438.25,108.69 438.60,108.21 438.95,108.57 439.30,108.18 439.65,107.79 440.00,108.17 440.35,107.63 440.70,107.12 441.05,107.17 441.40,106.87 441.75,107.18 442.10,108.00 442.45,107.99 442.80,107.34 443.15,106.28 443.50,106.38 443.85,106.24 444.20,106.51 444.55,106.97 444.90,105.66 445.25,106.58 445.60,106.45 445.95,106.92 446.30,107.25 446.65,106.39 447.00,106.81 447.35,106.14 447.70,106.51 448.05,106.87 448.40,105.70 448.75,106.63 449.10,106.60 449.45,105.97 449.80,106.10 450.15,107.25 450.50,106.30 450.85,105.98 451.20,106.17 451.55,106.64 451.90,106.40 452.25,106.30 452.60,106.25 452.95,106.09 453.30,106.73 453.65,106.99 454.00,106.03 454.35,107.09 454.70,106.59 455.05,107.99 455.40,107.97 455.75,106.42 456.10,107.62 456.45,106.99 456.80,106.60 457.15,108.21 457.50,108.35 457.85,108.19 458.20,107.97 458.55,108.73 458.90,107.96 459.25,108.28 459.60,108.32 459.95,108.81 460.30,108.88 460.65,107.86 461.00,107.76 461.35,108.52 461.70,108.69 462.05,108.30 462.40,109.40 462.75,109.46 463.10,109.22 463.45,109.00 463.80,109.40 464.15,108.49 464.50,109.80 464.85,108.52 465.20,110.15 465.55,109.67 465.90,109.05 466.25,108.96 466.60,109.85 466.95,109.66 467.30,110.20 467.65,109.08 468.00,110.71 468.35,109.89 468.70,109.99 469.05,110.67 469.40,110.48 469.75,110.23 470.10,110.00 470.45,110.40 470.80,109.59 471.15,110.10 471.50,111.29 471.85,109.94 472.20,109.92 472.55,111.50 472.90,110.61 473.25,110.98 473.60,111.15 473.95,111.47 474.30,110.73 474.65,111.68 475.00,110.20 475.35,111.94 475.70,110.92 476.05,111.60 476.40,111.00 476.75,111.94 477.10,111.25 477.45,111.75 477.80,111.23 478.15,112.31 478.50,112.24 478.85,111.14 479.20,112.30 479.55,112.72 479.90,111.36 480.25,111.28 480.60,113.04 480.95,113.28 481.30,111.13 481.65,113.05 482.00,113.68 482.35,111.56 482.70,113.46 483.05,111.73 483.40,113.74 483.75,112.69 484.10,112.59 484.45,111.02 484.80,113.57 485.15,113.90 485.50,111.82 485.85,110.48 486.20,110.70 486.55,111.67 486.90,116.20 487.25,114.75 487.60,115.86 487.95,115.00 488.30,110.81" fill="none" stroke="#2a1ec8" stroke-width="1.6" stroke-linejoin="round" stroke-linecap="round" />
<polyline points="434.00,176.53 434.35,177.18 434.70,176.24 435.05,175.88 435.40,174.77 435.75,173.81 436.10,173.23 436.45,172.90 436.80,171.03 437.15,169.38 437.50,169.35 437.85,167.84 438.20,167.67 438.55,167.65 438.90,166.10 439.25,165.25 439.60,164.09 439.95,163.93 440.30,163.52 440.65,162.91 441.00,162.96 441.35,160.22 441.70,160.01 442.05,158.93 442.40,160.33 442.75,158.97 443.10,158.38 443.45,158.10 443.80,155.51 444.15,157.02 444.50,155.00 444.85,155.13 445.20,154.01 445.55,154.25 445.90,152.60 446.25,151.97 446.60,151.32 446.95,151.88 447.30,150.65 447.65,149.35 448.00,149.25 448.35,149.25 448.70,148.26 449.05,148.28 449.40,148.36 449.75,147.36 450.10,147.23 450.45,145.52 450.80,146.36 451.15,146.02 451.50,144.52 451.85,142.80 452.20,142.46 452.55,143.58 452.90,143.35 453.25,142.51 453.60,141.50 453.95,141.09 454.30,139.57 454.65,140.24 455.00,140.71 455.35,138.31 455.70,138.79 456.05,138.88 456.40,138.00 456.75,136.88 457.10,136.21 457.45,136.99 457.80,137.06 458.15,136.53 458.50,134.99 458.85,135.41 459.20,135.17 459.55,133.72 459.90,134.23 460.25,133.02 460.60,132.28 460.95,131.51 461.30,132.96 461.65,132.74 462.00,130.74 462.35,130.50 462.70,130.82 463.05,130.27 463.40,131.23 463.75,129.64 464.10,130.30 464.45,129.93 464.80,129.18 465.15,130.20 465.50,129.00 465.85,128.98 466.20,129.15 466.55,128.32 466.90,127.60 467.25,129.24 467.60,128.56 467.95,127.87 468.30,127.55 468.65,127.65 469.00,126.67 469.35,125.94 469.70,126.88 470.05,127.54 470.40,125.46 470.75,127.43 471.10,125.82 471.45,127.17 471.80,126.47 472.15,125.12 472.50,124.83 472.85,126.30 473.20,126.36 473.55,125.79 473.90,125.11 474.25,124.86 474.60,125.28 474.95,125.23 475.30,125.10 475.65,123.69 476.00,124.87 476.35,125.07 476.70,124.06 477.05,122.59 477.40,122.92 477.75,123.92 478.10,123.27 478.45,124.35 478.80,123.58 479.15,123.62 479.50,122.20 479.85,122.99 480.20,123.33 480.55,123.72 480.90,123.60 481.25,122.00 481.60,122.49 481.95,123.56 482.30,121.36 482.65,121.24 483.00,121.43 483.35,122.67 483.70,121.62 484.05,122.47 484.40,122.68 484.75,122.56 485.10,120.64 485.45,122.13 485.80,122.32 486.15,121.98 486.50,122.25 486.85,122.03 487.20,121.43 487.55,121.92 487.90,121.04" fill="none" stroke="#000" stroke-width="1.7" stroke-linejoin="round" stroke-linecap="round" />
<path d="M39.50,302.00 C41.02,302.00 45.33,302.08 48.60,302.00 C51.87,301.92 55.58,301.70 59.10,301.50 C62.62,301.30 66.92,300.87 69.70,300.80 C72.48,300.73 74.05,300.90 75.80,301.10 C77.55,301.30 78.73,301.42 80.20,302.00 C81.67,302.58 83.28,303.72 84.60,304.60 C85.92,305.48 86.93,306.52 88.10,307.30 C89.27,308.08 90.57,308.88 91.60,309.30 C92.63,309.72 93.42,309.85 94.30,309.80 C95.18,309.75 96.02,309.57 96.90,309.00 C97.78,308.43 98.57,307.57 99.60,306.40 C100.63,305.23 101.87,303.43 103.10,302.00 C104.33,300.57 105.42,300.00 107.00,297.80 C108.58,295.60 110.73,292.00 112.60,288.80 C114.47,285.60 116.50,281.82 118.20,278.60 C119.90,275.38 121.47,271.47 122.80,269.50 C124.13,267.53 125.08,267.17 126.20,266.80 C127.32,266.43 128.38,266.65 129.50,267.30 C130.62,267.95 131.57,268.82 132.90,270.70 C134.23,272.58 135.98,275.78 137.50,278.60 C139.02,281.42 140.50,284.78 142.00,287.60 C143.50,290.42 145.00,293.05 146.50,295.50 C148.00,297.95 149.50,300.33 151.00,302.30 C152.50,304.27 153.80,305.78 155.50,307.30 C157.20,308.82 160.25,310.72 161.20,311.40" fill="none" stroke="#bc1f2a" stroke-width="1.45" stroke-linejoin="round" stroke-linecap="round" />
<path d="M39.50,308.10 C40.42,308.40 43.05,309.30 45.00,309.90 C46.95,310.50 49.73,310.97 51.20,311.70 C52.67,312.43 53.07,313.13 53.80,314.30 C54.53,315.47 55.02,316.80 55.60,318.70 C56.18,320.60 56.72,323.07 57.30,325.70 C57.88,328.33 58.37,331.57 59.10,334.50 C59.83,337.43 60.88,341.10 61.70,343.30 C62.52,345.50 63.27,347.25 64.00,347.70 C64.73,348.15 65.45,347.32 66.10,346.00 C66.75,344.68 67.30,342.30 67.90,339.80 C68.50,337.30 69.12,333.93 69.70,331.00 C70.28,328.07 70.82,325.13 71.40,322.20 C71.98,319.27 72.62,316.18 73.20,313.40 C73.78,310.62 74.17,307.98 74.90,305.50 C75.63,303.02 76.72,300.40 77.60,298.50 C78.48,296.60 79.18,295.28 80.20,294.10 C81.22,292.92 82.15,292.67 83.70,291.40 C85.25,290.13 87.73,287.90 89.50,286.50 C91.27,285.10 92.97,284.17 94.30,283.00 C95.63,281.83 95.95,281.75 97.50,279.50 C99.05,277.25 101.47,273.23 103.60,269.50 C105.73,265.77 108.42,260.85 110.30,257.10 C112.18,253.35 113.58,249.63 114.90,247.00 C116.22,244.37 117.27,242.43 118.20,241.30 C119.13,240.17 119.63,240.02 120.50,240.20 C121.37,240.38 122.45,240.72 123.40,242.40 C124.35,244.08 125.18,246.90 126.20,250.30 C127.22,253.70 128.38,258.27 129.50,262.80 C130.62,267.33 131.77,272.80 132.90,277.50 C134.03,282.20 135.17,286.87 136.30,291.00 C137.43,295.13 138.57,299.28 139.70,302.30 C140.83,305.32 141.78,307.40 143.10,309.10 C144.42,310.80 145.90,311.63 147.60,312.50 C149.30,313.37 151.03,313.55 153.30,314.30 C155.57,315.05 159.88,316.55 161.20,317.00" fill="none" stroke="#78e632" stroke-width="1.45" stroke-linejoin="round" stroke-linecap="round" />
<path d="M165.30,303.70 C165.90,302.80 167.55,299.65 168.90,298.30 C170.25,296.95 171.62,296.10 173.40,295.60 C175.18,295.10 177.38,295.35 179.60,295.30 C181.82,295.25 184.32,295.38 186.70,295.30 C189.08,295.22 191.52,295.03 193.90,294.80 C196.28,294.57 198.93,294.00 201.00,293.90 C203.07,293.80 204.67,293.92 206.30,294.20 C207.93,294.48 209.60,295.42 210.80,295.60 C212.00,295.78 212.62,295.88 213.50,295.30 C214.38,294.72 215.07,293.68 216.10,292.10 C217.13,290.52 218.50,287.88 219.70,285.80 C220.90,283.72 222.32,280.83 223.30,279.60 C224.28,278.37 224.87,278.33 225.60,278.40 C226.33,278.47 226.90,278.62 227.70,280.00 C228.50,281.38 229.50,284.38 230.40,286.70 C231.30,289.02 232.07,291.67 233.10,293.90 C234.13,296.13 235.27,298.38 236.60,300.10 C237.93,301.82 239.47,303.10 241.10,304.20 C242.73,305.30 245.52,306.28 246.40,306.70" fill="none" stroke="#bc1f2a" stroke-width="1.45" stroke-linejoin="round" stroke-linecap="round" />
<path d="M165.30,293.50 C166.20,293.12 168.77,292.08 170.70,291.20 C172.63,290.32 175.12,289.53 176.90,288.20 C178.68,286.87 180.20,284.57 181.40,283.20 C182.60,281.83 183.27,280.67 184.10,280.00 C184.93,279.33 185.52,278.97 186.40,279.20 C187.28,279.43 188.30,280.15 189.40,281.40 C190.50,282.65 191.67,284.77 193.00,286.70 C194.33,288.63 195.77,291.07 197.40,293.00 C199.03,294.93 201.02,296.73 202.80,298.30 C204.58,299.87 206.32,301.22 208.10,302.40 C209.88,303.58 211.72,304.60 213.50,305.40 C215.28,306.20 216.73,306.80 218.80,307.20 C220.87,307.60 223.22,307.70 225.90,307.80 C228.58,307.90 231.48,307.75 234.90,307.80 C238.32,307.85 244.48,308.05 246.40,308.10" fill="none" stroke="#78e632" stroke-width="1.45" stroke-linejoin="round" stroke-linecap="round" />
<polyline points="288.20,355.50 288.30,330.00 288.60,290.00 289.00,250.00 289.40,241.30" fill="none" stroke="#000" stroke-width="1.5" stroke-linejoin="round" stroke-linecap="round" />
<path d="M289.40,241.30 C289.58,242.38 290.08,245.67 290.50,247.80 C290.92,249.93 291.45,252.15 291.90,254.10 C292.35,256.05 292.77,257.52 293.20,259.50 C293.63,261.48 293.92,263.45 294.50,266.00 C295.08,268.55 295.95,271.75 296.70,274.80 C297.45,277.85 298.17,281.20 299.00,284.30 C299.83,287.40 300.83,290.98 301.70,293.40 C302.57,295.82 303.40,297.07 304.20,298.80 C305.00,300.53 305.70,301.97 306.50,303.80 C307.30,305.63 308.17,307.93 309.00,309.80 C309.83,311.67 310.45,313.00 311.50,315.00 C312.55,317.00 313.83,319.63 315.30,321.80 C316.77,323.97 318.63,326.17 320.30,328.00 C321.97,329.83 323.63,331.38 325.30,332.80 C326.97,334.22 328.62,335.33 330.30,336.50 C331.98,337.67 333.78,338.88 335.40,339.80 C337.02,340.72 337.85,341.03 340.00,342.00 C342.15,342.97 345.20,344.53 348.30,345.60 C351.40,346.67 355.17,347.62 358.60,348.40 C362.03,349.18 364.75,349.82 368.90,350.30 C373.05,350.78 381.07,351.13 383.50,351.30" fill="none" stroke="#000" stroke-width="1.5" stroke-linejoin="round" stroke-linecap="round" />
<path d="M387.40,351.90 C388.50,352.10 388.90,352.82 394.00,353.10 C399.10,353.38 410.33,353.38 418.00,353.60 C425.67,353.82 428.08,354.13 440.00,354.40 C451.92,354.67 481.25,355.07 489.50,355.20" fill="none" stroke="#000" stroke-width="1.5" stroke-linejoin="round" stroke-linecap="round" />
<path d="M288.10,355.30 C288.28,354.03 288.75,350.20 289.20,347.70 C289.65,345.20 290.18,342.58 290.80,340.30 C291.42,338.02 292.12,335.85 292.90,334.00 C293.68,332.15 294.62,330.43 295.50,329.20 C296.38,327.97 297.32,327.18 298.20,326.60 C299.08,326.02 299.93,325.82 300.80,325.70 C301.67,325.58 302.35,325.70 303.40,325.90 C304.45,326.10 306.00,326.52 307.10,326.90 C308.20,327.28 308.85,327.65 310.00,328.20 C311.15,328.75 312.48,329.40 314.00,330.20 C315.52,331.00 317.42,332.08 319.10,333.00 C320.78,333.92 322.43,334.88 324.10,335.70 C325.77,336.52 327.22,337.13 329.10,337.90 C330.98,338.67 333.58,339.68 335.40,340.30 C337.22,340.92 337.85,341.05 340.00,341.60 C342.15,342.15 345.20,343.03 348.30,343.60 C351.40,344.17 355.17,344.62 358.60,345.00 C362.03,345.38 364.75,345.58 368.90,345.90 C373.05,346.22 381.07,346.73 383.50,346.90" fill="none" stroke="#c81e24" stroke-width="1.5" stroke-linejoin="round" stroke-linecap="round" />
<path d="M387.40,346.80 C389.85,346.98 397.00,347.55 402.10,347.90 C407.20,348.25 411.68,348.48 418.00,348.90 C424.32,349.32 434.62,349.92 440.00,350.40 C445.38,350.88 446.87,351.33 450.30,351.80 C453.73,352.27 457.17,352.78 460.60,353.20 C464.03,353.62 467.47,354.00 470.90,354.30 C474.33,354.60 478.10,354.83 481.20,355.00 C484.30,355.17 488.12,355.25 489.50,355.30" fill="none" stroke="#c81e24" stroke-width="1.5" stroke-linejoin="round" stroke-linecap="round" />
<path d="M288.10,355.30 C288.80,353.78 290.88,349.25 292.30,346.20 C293.72,343.15 295.18,340.07 296.60,337.00 C298.02,333.93 299.40,330.83 300.80,327.80 C302.20,324.77 303.63,321.73 305.00,318.80 C306.37,315.87 307.67,313.08 309.00,310.20 C310.33,307.32 311.75,304.20 313.00,301.50 C314.25,298.80 315.55,296.00 316.50,294.00 C317.45,292.00 317.95,290.97 318.70,289.50 C319.45,288.03 320.10,286.83 321.00,285.20 C321.90,283.57 322.92,281.63 324.10,279.70 C325.28,277.77 326.77,275.37 328.10,273.60 C329.43,271.83 330.77,270.43 332.10,269.10 C333.43,267.77 334.58,266.77 336.10,265.60 C337.62,264.43 339.52,263.05 341.20,262.10 C342.88,261.15 344.70,260.52 346.20,259.90 C347.70,259.28 349.03,258.82 350.20,258.40 C351.37,257.98 351.82,257.88 353.20,257.40 C354.58,256.92 356.47,256.08 358.50,255.50 C360.53,254.92 362.80,254.35 365.40,253.90 C368.00,253.45 371.03,253.07 374.10,252.80 C377.17,252.53 382.18,252.38 383.80,252.30" fill="none" stroke="#78e632" stroke-width="1.5" stroke-linejoin="round" stroke-linecap="round" />
<path d="M387.20,252.10 C388.00,252.12 389.93,251.92 392.00,252.20 C394.07,252.48 397.43,253.08 399.60,253.80 C401.77,254.52 403.27,255.53 405.00,256.50 C406.73,257.47 408.32,258.55 410.00,259.60 C411.68,260.65 413.42,261.62 415.10,262.80 C416.78,263.98 418.43,265.23 420.10,266.70 C421.77,268.17 423.42,269.85 425.10,271.60 C426.78,273.35 428.68,275.35 430.20,277.20 C431.72,279.05 432.57,280.42 434.20,282.70 C435.83,284.98 438.15,288.07 440.00,290.90 C441.85,293.73 443.53,296.62 445.30,299.70 C447.07,302.78 448.85,306.18 450.60,309.40 C452.35,312.62 454.05,315.82 455.80,319.00 C457.55,322.18 459.33,325.58 461.10,328.50 C462.87,331.42 464.63,334.15 466.40,336.50 C468.17,338.85 469.93,340.78 471.70,342.60 C473.47,344.42 475.23,346.05 477.00,347.40 C478.77,348.75 480.55,349.82 482.30,350.70 C484.05,351.58 486.30,352.27 487.50,352.70 C488.70,353.13 489.17,353.20 489.50,353.30" fill="none" stroke="#78e632" stroke-width="1.5" stroke-linejoin="round" stroke-linecap="round" />
<path d="M288.20,355.60 C290.17,355.58 296.37,355.57 300.00,355.50 C303.63,355.43 306.00,355.38 310.00,355.20 C314.00,355.02 319.33,354.70 324.00,354.40 C328.67,354.10 333.95,353.68 338.00,353.40 C342.05,353.12 344.87,352.93 348.30,352.70 C351.73,352.47 355.17,352.23 358.60,352.00 C362.03,351.77 364.75,351.55 368.90,351.30 C373.05,351.05 381.07,350.63 383.50,350.50" fill="none" stroke="#2a1ec8" stroke-width="1.5" stroke-linejoin="round" stroke-linecap="round" />
<path d="M387.40,350.60 C388.50,350.15 391.55,349.02 394.00,347.90 C396.45,346.78 399.42,345.43 402.10,343.90 C404.78,342.37 407.45,340.45 410.10,338.70 C412.75,336.95 415.93,334.92 418.00,333.40 C420.07,331.88 421.00,330.93 422.50,329.60 C424.00,328.27 425.48,326.90 427.00,325.40 C428.52,323.90 430.08,322.35 431.60,320.60 C433.12,318.85 434.60,316.95 436.10,314.90 C437.60,312.85 439.25,310.57 440.60,308.30 C441.95,306.03 442.83,303.93 444.20,301.30 C445.57,298.67 446.93,295.90 448.80,292.50 C450.67,289.10 453.62,283.98 455.40,280.90 C457.18,277.82 458.05,276.43 459.50,274.00 C460.95,271.57 462.58,268.80 464.10,266.30 C465.62,263.80 467.27,261.12 468.60,259.00 C469.93,256.88 470.50,255.72 472.10,253.60 C473.70,251.48 476.18,248.33 478.20,246.30 C480.22,244.27 482.32,242.73 484.20,241.40 C486.08,240.07 488.62,238.82 489.50,238.30" fill="none" stroke="#2a1ec8" stroke-width="1.5" stroke-linejoin="round" stroke-linecap="round" />
<polyline points="297.23,280.25 297.87,282.72 298.50,285.10 299.14,287.41 299.78,289.64 300.41,291.80 301.05,293.89 301.68,295.91 302.32,297.86 302.96,299.75 303.59,301.58 304.23,303.35 304.86,305.06 305.50,306.71 306.14,308.31 306.77,309.86 307.41,311.36 308.04,312.80 308.68,314.20 309.32,315.56 309.95,316.87 310.59,318.13 311.22,319.36 311.86,320.54 312.50,321.69 313.13,322.80 313.77,323.87 314.40,324.91 315.04,325.91 315.68,326.88 316.31,327.82 316.95,328.72 317.58,329.60 318.22,330.45 318.86,331.27 319.49,332.07 320.13,332.84 320.76,333.58 321.40,334.30 322.04,334.99 322.67,335.66 323.31,336.31 323.94,336.94 324.58,337.55 325.22,338.14 325.85,338.71 326.49,339.26 327.12,339.79 327.76,340.31 328.40,340.81 329.03,341.29 329.67,341.75 330.30,342.20 330.94,342.64 331.58,343.06 332.21,343.47 332.85,343.86 333.48,344.25 334.12,344.61 334.76,344.97 335.39,345.32 336.03,345.65 336.66,345.97 337.30,346.29 337.94,346.59 338.57,346.88 339.21,347.16 339.84,347.44 340.48,347.70 341.12,347.96 341.75,348.20 342.39,348.44 343.02,348.67 343.66,348.90 344.30,349.11 344.93,349.32 345.57,349.53 346.20,349.72 346.84,349.91 347.48,350.09 348.11,350.27 348.75,350.44 349.38,350.61 350.02,350.77 350.66,350.92 351.29,351.07 351.93,351.22 352.56,351.36 353.20,351.50 353.84,351.63 354.47,351.75 355.11,351.88 355.74,352.00 356.38,352.11 357.02,352.22 357.65,352.33 358.29,352.43 358.92,352.53 359.56,352.63 360.20,352.72 360.83,352.82 361.47,352.90 362.10,352.99 362.74,353.07 363.38,353.15 364.01,353.23 364.65,353.30 365.28,353.37 365.92,353.44 366.56,353.51 367.19,353.58 367.83,353.64 368.46,353.70 369.10,353.76 369.74,353.82 370.37,353.87 371.01,353.93 371.64,353.98 372.28,354.03 372.92,354.08 373.55,354.12 374.19,354.17 374.82,354.21 375.46,354.25 376.10,354.29 376.73,354.33 377.37,354.37 378.00,354.41 378.64,354.44 379.28,354.48 379.91,354.51 380.55,354.54 381.18,354.58 381.82,354.61 382.46,354.64 383.09,354.66 383.73,354.69 384.36,354.72 385.00,354.74" fill="none" stroke="#000" stroke-width="1.6" stroke-linejoin="round" stroke-linecap="round" stroke-dasharray="5.5,7.5,6.5,7.5" stroke-linecap="butt"/>
<polyline points="389.50,355.60 489.50,355.90" fill="none" stroke="#000" stroke-width="1.6" stroke-linejoin="round" stroke-linecap="round" stroke-dasharray="6.5,7.5" stroke-linecap="butt"/>
<line x1="319.80" y1="247.20" x2="347.50" y2="247.20" stroke="#000" stroke-width="1.5" />
<line x1="319.80" y1="262.00" x2="347.50" y2="262.00" stroke="#c81e24" stroke-width="1.5" />
<line x1="319.80" y1="280.80" x2="347.50" y2="280.80" stroke="#78e632" stroke-width="1.5" />
<line x1="319.80" y1="300.40" x2="348.50" y2="300.40" stroke="#2a1ec8" stroke-width="1.5" />
<line x1="319.80" y1="319.70" x2="326.90" y2="319.70" stroke="#000" stroke-width="1.6" />
<line x1="334.00" y1="319.70" x2="340.90" y2="319.70" stroke="#000" stroke-width="1.6" />
<text x="28.50" y="11.10" font-size="9.6" text-anchor="start" font-weight="bold" fill="#000"  textLength="30.3" lengthAdjust="spacingAndGlyphs">3.2 ps</text>
<text x="13.90" y="26.40" font-size="12.2" text-anchor="start" font-weight="bold" fill="#000" stroke="#000" stroke-width="0.35">P*</text>
<line x1="29.60" y1="20.90" x2="47.40" y2="20.90" stroke="#000" stroke-width="2.0" />
<polygon points="46.40,17.90 57.20,20.90 46.40,23.90 47.90,20.90" fill="#000"/>
<text x="64.10" y="27.00" font-size="12.2" text-anchor="start" font-weight="bold" fill="#c41e28" >RP</text>
<text x="81.60" y="31.60" font-size="8" text-anchor="start" font-weight="bold" fill="#c41e28" >1</text>
<line x1="90.30" y1="21.90" x2="106.20" y2="21.90" stroke="#c41e28" stroke-width="2.0" />
<polygon points="105.20,18.90 116.00,21.90 105.20,24.90 106.70,21.90" fill="#c41e28"/>
<text x="92.10" y="11.40" font-size="9.6" text-anchor="start" font-weight="bold" fill="#c41e28"  textLength="27.7" lengthAdjust="spacingAndGlyphs">1.3ps</text>
<text x="123.90" y="27.20" font-size="12.2" text-anchor="start" font-weight="bold" fill="#84e64c" >P</text>
<text x="132.90" y="17.90" font-size="11.3" text-anchor="start" font-weight="bold" fill="#84e64c" >+</text>
<text x="139.60" y="27.20" font-size="12.2" text-anchor="start" font-weight="bold" fill="#84e64c" >H</text>
<text x="148.60" y="27.20" font-size="8.2" text-anchor="start" font-weight="bold" fill="#84e64c" >A</text>
<rect x="155.5" y="13.8" width="3.6" height="1.7" fill="#84e64c"/>
<text x="158.80" y="11.90" font-size="9.6" text-anchor="start" font-weight="bold" fill="#84e64c"  textLength="32.2" lengthAdjust="spacingAndGlyphs">201 ps</text>
<line x1="158.80" y1="22.00" x2="175.30" y2="22.00" stroke="#84e64c" stroke-width="2.0" />
<polygon points="174.30,19.00 185.10,22.00 174.30,25.00 175.80,22.00" fill="#84e64c"/>
<text x="191.80" y="26.60" font-size="12.2" text-anchor="start" font-weight="bold" fill="#2c16b8" >P</text>
<text x="200.80" y="17.60" font-size="11.3" text-anchor="start" font-weight="bold" fill="#2c16b8" >+</text>
<text x="207.10" y="26.60" font-size="12.2" text-anchor="start" font-weight="bold" fill="#2c16b8" >Q</text>
<text x="217.30" y="26.60" font-size="8.2" text-anchor="start" font-weight="bold" fill="#2c16b8" >A</text>
<rect x="224.2" y="13.8" width="3.4" height="1.7" fill="#2c16b8"/>
<text x="227.50" y="11.40" font-size="9.6" text-anchor="start" font-weight="bold" fill="#2c16b8"  textLength="15.2" lengthAdjust="spacingAndGlyphs">Inf.</text>
<line x1="224.50" y1="21.50" x2="240.40" y2="21.50" stroke="#2c16b8" stroke-width="2.0" />
<polygon points="239.40,18.50 250.20,21.50 239.40,24.50 240.90,21.50" fill="#2c16b8"/>
<text x="285.10" y="8.75" font-size="9.6" text-anchor="start" font-weight="bold" fill="#000"  textLength="31.4" lengthAdjust="spacingAndGlyphs">2.6 ps</text>
<text x="267.10" y="21.90" font-size="12.2" text-anchor="start" font-weight="bold" fill="#000" stroke="#000" stroke-width="0.35">P*</text>
<line x1="283.00" y1="16.00" x2="298.10" y2="16.00" stroke="#000" stroke-width="2.0" />
<polygon points="297.10,13.10 307.90,16.00 297.10,18.90 298.60,16.00" fill="#000"/>
<line x1="291.00" y1="21.70" x2="307.90" y2="21.70" stroke="#000" stroke-width="2.0" />
<polygon points="292.00,18.80 281.00,21.70 292.00,24.60 290.50,21.70" fill="#000"/>
<text x="285.10" y="33.00" font-size="9.6" text-anchor="start" font-weight="bold" fill="#000"  textLength="24.4" lengthAdjust="spacingAndGlyphs">12ps</text>
<text x="316.80" y="21.90" font-size="12.2" text-anchor="start" font-weight="bold" fill="#c41e28" >RP</text>
<text x="334.60" y="26.80" font-size="8" text-anchor="start" font-weight="bold" fill="#c41e28" >1</text>
<line x1="350.20" y1="17.30" x2="366.70" y2="17.30" stroke="#c41e28" stroke-width="2.0" />
<polygon points="365.70,14.40 376.50,17.30 365.70,20.20 367.20,17.30" fill="#c41e28"/>
<line x1="358.10" y1="22.60" x2="373.80" y2="22.60" stroke="#c41e28" stroke-width="2.0" />
<polygon points="359.10,19.70 348.10,22.60 359.10,25.50 357.60,22.60" fill="#c41e28"/>
<text x="349.70" y="8.60" font-size="9.6" text-anchor="start" font-weight="bold" fill="#c41e28"  textLength="26.2" lengthAdjust="spacingAndGlyphs">1.9ps</text>
<text x="348.30" y="33.40" font-size="9.6" text-anchor="start" font-weight="bold" fill="#c41e28"  textLength="24.0" lengthAdjust="spacingAndGlyphs">21ps</text>
<text x="377.00" y="21.50" font-size="12.2" text-anchor="start" font-weight="bold" fill="#84e64c" >P</text>
<text x="385.85" y="12.70" font-size="11.3" text-anchor="start" font-weight="bold" fill="#84e64c" >+</text>
<text x="392.90" y="21.50" font-size="12.2" text-anchor="start" font-weight="bold" fill="#84e64c" >H</text>
<text x="401.90" y="21.50" font-size="8.2" text-anchor="start" font-weight="bold" fill="#84e64c" >A</text>
<rect x="408.4" y="8.9" width="3.8" height="1.7" fill="#84e64c"/>
<text x="416.10" y="8.40" font-size="9.6" text-anchor="start" font-weight="bold" fill="#84e64c"  textLength="32.4" lengthAdjust="spacingAndGlyphs">184 ps</text>
<line x1="414.00" y1="16.90" x2="430.40" y2="16.90" stroke="#84e64c" stroke-width="2.0" />
<polygon points="429.40,13.90 440.20,16.90 429.40,19.90 430.90,16.90" fill="#84e64c"/>
<text x="445.00" y="21.50" font-size="12.2" text-anchor="start" font-weight="bold" fill="#2a18cc" >P</text>
<text x="454.20" y="12.70" font-size="11.3" text-anchor="start" font-weight="bold" fill="#2a18cc" >+</text>
<text x="460.50" y="21.50" font-size="12.2" text-anchor="start" font-weight="bold" fill="#2a18cc" >Q</text>
<text x="470.70" y="21.50" font-size="8.2" text-anchor="start" font-weight="bold" fill="#2a18cc" >A</text>
<rect x="477.4" y="8.9" width="3.4" height="1.7" fill="#2a18cc"/>
<text x="485.10" y="8.60" font-size="9.6" text-anchor="start" font-weight="bold" fill="#2a18cc"  textLength="15.3" lengthAdjust="spacingAndGlyphs">Inf.</text>
<line x1="478.00" y1="16.60" x2="494.50" y2="16.60" stroke="#2a18cc" stroke-width="2.0" />
<polygon points="493.50,13.60 504.30,16.60 493.50,19.60 495.00,16.60" fill="#2a18cc"/>
<text x="351.30" y="250.50" font-size="12.3" text-anchor="start" font-weight="normal" fill="#000" >P*</text>
<text x="351.30" y="266.00" font-size="12.3" text-anchor="start" font-weight="normal" fill="#000" >RP</text>
<text x="368.00" y="270.80" font-size="8" text-anchor="start" font-weight="normal" fill="#000" >1</text>
<text x="351.30" y="285.10" font-size="12.3" text-anchor="start" font-weight="normal" fill="#000" >P+H</text>
<text x="375.90" y="290.60" font-size="8.5" text-anchor="start" font-weight="normal" fill="#000" >A</text>
<rect x="381.3" y="281.6" width="3.8" height="1.3" fill="#000"/>
<text x="351.30" y="304.30" font-size="12.3" text-anchor="start" font-weight="normal" fill="#000" >P+Q</text>
<text x="376.40" y="309.30" font-size="8.5" text-anchor="start" font-weight="normal" fill="#000" >A</text>
<rect x="382.0" y="300.8" width="3.6" height="1.3" fill="#000"/>
<text x="351.60" y="323.80" font-size="12.3" text-anchor="start" font-weight="normal" fill="#000" >decay of 3ps</text>
<rect x="384.05" y="236" width="3.05" height="120.4" fill="#fff"/>
</svg></body></html>
